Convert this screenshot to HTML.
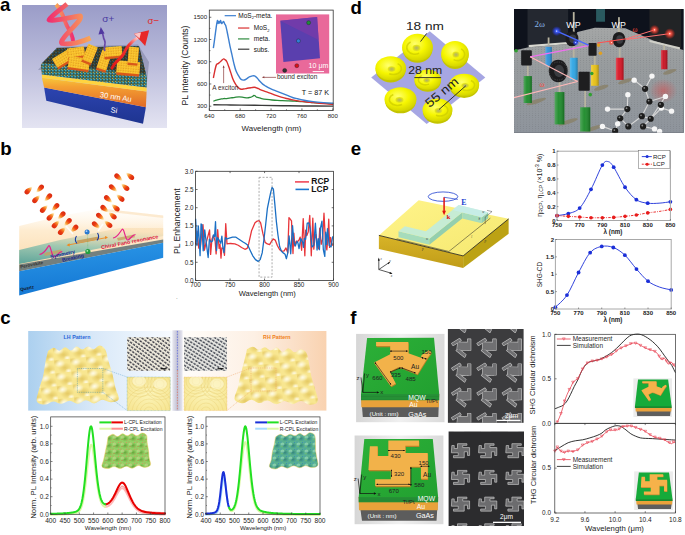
<!DOCTYPE html>
<html><head><meta charset="utf-8"><title>Figure</title>
<style>
html,body{margin:0;padding:0;background:#fff;width:685px;height:535px;overflow:hidden}
svg{display:block;font-family:"Liberation Sans",sans-serif}
</style></head><body>
<svg width="685" height="535" viewBox="0 0 685 535">
<rect width="685" height="535" fill="#fff"/>
<text x="0.1" y="10.7" font-size="18.6" font-weight="bold" fill="#000">a</text>
<text x="350.6" y="13.8" font-size="18.6" font-weight="bold" fill="#000">d</text>
<text x="0.2" y="154.7" font-size="18.6" font-weight="bold" fill="#000">b</text>
<text x="350.7" y="154.6" font-size="18.6" font-weight="bold" fill="#000">e</text>
<text x="0.2" y="324.2" font-size="18.6" font-weight="bold" fill="#000">c</text>
<text x="350.3" y="323.5" font-size="18.6" font-weight="bold" fill="#000">f</text>
<g id="img_a"><defs>
<linearGradient id="abg" x1="0" y1="0" x2="0" y2="1"><stop offset="0" stop-color="#9a9cc8"/><stop offset="0.55" stop-color="#c0c1de"/><stop offset="1" stop-color="#e4e4f2"/></linearGradient>
<linearGradient id="asi" x1="0" y1="0" x2="0" y2="1"><stop offset="0" stop-color="#2c44b0"/><stop offset="1" stop-color="#1e3490"/></linearGradient>
<linearGradient id="aau" x1="0" y1="0" x2="0" y2="1"><stop offset="0" stop-color="#f8c83a"/><stop offset="0.3" stop-color="#f4a032"/><stop offset="1" stop-color="#e06a28"/></linearGradient>
<pattern id="amol" width="3.2" height="3" patternUnits="userSpaceOnUse"><rect width="3.2" height="3" fill="#3a5a48"/><circle cx="1.6" cy="1.5" r="0.95" fill="#3aa8c8"/><circle cx="0.2" cy="0.2" r="0.7" fill="#e8b830"/></pattern>
<pattern id="ablk" width="2.5" height="2.5" patternUnits="userSpaceOnUse"><rect width="2.5" height="2.5" fill="#f8c02a"/><circle cx="1" cy="1" r="0.4" fill="#b5601a"/><circle cx="2" cy="2" r="0.35" fill="#ffe46a"/></pattern>
<linearGradient id="ahel" x1="0" y1="0" x2="1" y2="0"><stop offset="0" stop-color="#f03070"/><stop offset="1" stop-color="#f8a858"/></linearGradient>
<linearGradient id="ahel2" x1="0" y1="0" x2="1" y2="0"><stop offset="0" stop-color="#f8a858"/><stop offset="1" stop-color="#f03070"/></linearGradient>
<linearGradient id="ared" x1="0" y1="1" x2="1" y2="0"><stop offset="0" stop-color="#e01818"/><stop offset="0.7" stop-color="#f03030"/><stop offset="1" stop-color="#ffd0d0"/></linearGradient>
</defs>
<rect x="22" y="5" width="145" height="123" fill="url(#abg)"/>
<polygon points="38,70 57,47 138,44.5 149,62 147,82 40.8,70" fill="#7c80a0" opacity="0.55"/>
<polygon points="44.1,87.6 145.9,107.3 143,123.7 46.3,100.7" fill="url(#asi)"/>
<polygon points="41.9,77.7 146.6,91.5 145.9,107.3 44.1,87.6" fill="url(#aau)"/>
<polygon points="41.9,74.4 146.6,87.5 146.6,91.5 41.9,77.7" fill="#ffd440"/>
<polygon points="57,48 139,46 147,77.7 40.8,64.6" fill="url(#amol)"/>
<polygon points="57,48 139,46 146,74 42,63" fill="#2a1810" opacity="0.55"/>
<polygon points="40.8,64.6 147,77.7 146.6,87.5 41.9,74.4" fill="url(#amol)"/>
<g transform="rotate(-32 64 57.5)"><rect x="53.0" y="54.3" width="22" height="10.6" fill="#d8581a"/><rect x="53.0" y="52.5" width="22" height="10" fill="url(#ablk)"/></g>
<g transform="rotate(-8 76 52)"><rect x="67.5" y="49.3" width="17" height="9.6" fill="#d8581a"/><rect x="67.5" y="47.5" width="17" height="9" fill="url(#ablk)"/></g>
<g transform="rotate(8 79 63)"><rect x="68.5" y="59.3" width="21" height="11.6" fill="#d8581a"/><rect x="68.5" y="57.5" width="21" height="11" fill="url(#ablk)"/></g>
<g transform="rotate(22 90 53.5)"><rect x="85.0" y="46.8" width="10" height="17.6" fill="#d8581a"/><rect x="85.0" y="45.0" width="10" height="17" fill="url(#ablk)"/></g>
<g transform="rotate(18 104.3 60)"><rect x="99.3" y="52.3" width="10" height="19.6" fill="#d8581a"/><rect x="99.3" y="50.5" width="10" height="19" fill="url(#ablk)"/></g>
<g transform="rotate(-5 113 51.5)"><rect x="104.0" y="48.55" width="18" height="10.1" fill="#d8581a"/><rect x="104.0" y="46.75" width="18" height="9.5" fill="url(#ablk)"/></g>
<g transform="rotate(5 128.3 67.3)"><rect x="116.80000000000001" y="63.099999999999994" width="23" height="12.6" fill="#d8581a"/><rect x="116.80000000000001" y="61.3" width="23" height="12" fill="url(#ablk)"/></g>
<g transform="rotate(5 133.3 55)"><rect x="128.3" y="48.8" width="10" height="16.6" fill="#d8581a"/><rect x="128.3" y="47.0" width="10" height="16" fill="url(#ablk)"/></g>
<path d="M56,4.5 C62,10 64,20 67,26 C70,31 73,36 73,41" fill="none" stroke="url(#ahel2)" stroke-width="4"/>
<path d="M67,4 C60,10 52,15 49,20 C55,22 70,17 80.5,16 C82,20 72,28 66,35 C62,40 60.5,42 62,43.5 C70,45 82,42 90.5,38" fill="none" stroke="url(#ahel)" stroke-width="4.8" stroke-linejoin="round"/>
<path d="M105,51 C103,47 106.5,44 104.5,40 C102.5,37 104,35 102,33" fill="none" stroke="#6848a8" stroke-width="1.7"/>
<polygon points="98.5,34.5 100.8,26.9 104.6,33.5" fill="#5038a0"/>
<text x="102.3" y="21.8" font-size="9.6" fill="#4a3aa0" textLength="12" lengthAdjust="spacingAndGlyphs">σ+</text>
<path d="M112,68 C115,61 121,59 123.5,54 C126,48 129,43 138,37.5" fill="none" stroke="url(#ared)" stroke-width="3" stroke-linecap="round"/>
<polygon points="134,33.8 149.1,30.2 145.2,46" fill="#e82828"/>
<polygon points="134,33.8 141,32.4 139.5,38.5" fill="#ffe0e0" opacity="0.85"/>
<text x="147.6" y="23.5" font-size="9.6" fill="#e02828" textLength="11.6" lengthAdjust="spacingAndGlyphs">σ−</text>
<text x="99.5" y="97" font-size="7.6" fill="#fff" transform="rotate(9 99.5 97)">30 nm Au</text>
<text x="110.3" y="112.3" font-size="7.6" fill="#fff" transform="rotate(9 110.3 112.3)">Si</text></g>
<g id="img_d_rings"><defs>
<radialGradient id="ringg" cx="0.42" cy="0.38" r="0.62"><stop offset="0" stop-color="#ffff70"/><stop offset="0.55" stop-color="#f6f600"/><stop offset="1" stop-color="#d4d400"/></radialGradient>
<radialGradient id="holeg" cx="0.5" cy="0.5" r="0.5"><stop offset="0" stop-color="#b0b070"/><stop offset="0.6" stop-color="#d0d030"/><stop offset="1" stop-color="#eeee10"/></radialGradient>
</defs>
<polygon points="371.2,77.6 429.8,31.3 485.3,77.6 426.7,123.9" fill="#9c9ce0" opacity="0.9"/>
<ellipse cx="417.5" cy="49.0" rx="14.938" ry="13.8" fill="#c4c400"/>
<ellipse cx="417.5" cy="47.2" rx="15.4" ry="13.5" fill="url(#ringg)"/>
<path d="M410.57,41.95 A7.70,6.30 0 1,0 419.04,53.20" fill="none" stroke="#d0d000" stroke-width="1.6" opacity="0.8"/>
<ellipse cx="416.5" cy="48.0" rx="4.0040000000000004" ry="3.3" fill="url(#holeg)"/>
<ellipse cx="455" cy="55.699999999999996" rx="13.483" ry="13.248000000000001" fill="#c4c400"/>
<ellipse cx="455" cy="53.9" rx="13.9" ry="12.96" fill="url(#ringg)"/>
<path d="M461.25,48.86 A6.95,6.05 0 1,1 453.61,59.66" fill="none" stroke="#d0d000" stroke-width="1.6" opacity="0.8"/>
<ellipse cx="456.0" cy="54.699999999999996" rx="3.6140000000000003" ry="3.168" fill="url(#holeg)"/>
<ellipse cx="390.7" cy="70.1" rx="14.938" ry="12.328000000000001" fill="#c4c400"/>
<ellipse cx="390.7" cy="68.3" rx="15.4" ry="12.06" fill="url(#ringg)"/>
<path d="M397.63,63.61 A7.70,5.63 0 1,1 389.16,73.66" fill="none" stroke="#d0d000" stroke-width="1.6" opacity="0.8"/>
<ellipse cx="391.7" cy="69.1" rx="4.0040000000000004" ry="2.948" fill="url(#holeg)"/>
<ellipse cx="427.7" cy="81.39999999999999" rx="12.998" ry="10.396" fill="#c4c400"/>
<ellipse cx="427.7" cy="79.6" rx="13.4" ry="10.170000000000002" fill="url(#ringg)"/>
<path d="M421.67,75.64 A6.70,4.75 0 1,0 429.04,84.12" fill="none" stroke="#d0d000" stroke-width="1.6" opacity="0.8"/>
<ellipse cx="426.7" cy="80.39999999999999" rx="3.4840000000000004" ry="2.486" fill="url(#holeg)"/>
<ellipse cx="464.2" cy="86.6" rx="14.549999999999999" ry="11.316" fill="#c4c400"/>
<ellipse cx="464.2" cy="84.8" rx="15" ry="11.07" fill="url(#ringg)"/>
<path d="M470.95,80.50 A7.50,5.17 0 1,1 462.70,89.72" fill="none" stroke="#d0d000" stroke-width="1.6" opacity="0.8"/>
<ellipse cx="465.2" cy="85.6" rx="3.9000000000000004" ry="2.706" fill="url(#holeg)"/>
<ellipse cx="400.5" cy="101.0" rx="15.52" ry="12.328000000000001" fill="#c4c400"/>
<ellipse cx="400.5" cy="99.2" rx="16" ry="12.06" fill="url(#ringg)"/>
<path d="M393.30,94.51 A8.00,5.63 0 1,0 402.10,104.56" fill="none" stroke="#d0d000" stroke-width="1.6" opacity="0.8"/>
<ellipse cx="399.5" cy="100.0" rx="4.16" ry="2.948" fill="url(#holeg)"/>
<ellipse cx="437.5" cy="111.8" rx="14.549999999999999" ry="11.868" fill="#c4c400"/>
<ellipse cx="437.5" cy="110" rx="15" ry="11.610000000000001" fill="url(#ringg)"/>
<path d="M444.25,105.48 A7.50,5.42 0 1,1 436.00,115.16" fill="none" stroke="#d0d000" stroke-width="1.6" opacity="0.8"/>
<ellipse cx="438.5" cy="110.8" rx="3.9000000000000004" ry="2.838" fill="url(#holeg)"/>
<line x1="426.7" y1="33.4" x2="420.5" y2="41.6" stroke="#222" stroke-width="0.9"/>
<text x="406" y="29.5" font-size="11.6" fill="#222" textLength="38" lengthAdjust="spacingAndGlyphs">18 nm</text>
<text x="408.2" y="73.8" font-size="11.6" fill="#222" textLength="34" lengthAdjust="spacingAndGlyphs">28 nm</text>
<line x1="414.4" y1="77.6" x2="441.1" y2="77.6" stroke="#222" stroke-width="0.9"/>
<line x1="439" y1="109.5" x2="465.8" y2="85.8" stroke="#222" stroke-width="0.9"/>
<text x="0" y="0" font-size="12.4" fill="#222" textLength="39" lengthAdjust="spacingAndGlyphs" transform="translate(429.5 108) rotate(-40)">55 nm</text></g>
<g id="img_d_photo"><defs>
<linearGradient id="tbl" x1="0" y1="0" x2="0" y2="1"><stop offset="0" stop-color="#a4a6a6"/><stop offset="0.35" stop-color="#989c9e"/><stop offset="1" stop-color="#8e949c"/></linearGradient>
<radialGradient id="rglow" cx="0.5" cy="0.5" r="0.5"><stop offset="0" stop-color="#fff"/><stop offset="0.2" stop-color="#ff6050"/><stop offset="1" stop-color="#ff2010" stop-opacity="0"/></radialGradient>
<radialGradient id="bglow" cx="0.5" cy="0.5" r="0.5"><stop offset="0" stop-color="#fff"/><stop offset="0.2" stop-color="#4060ff"/><stop offset="1" stop-color="#2030ff" stop-opacity="0"/></radialGradient>
<radialGradient id="redhaze" cx="0.5" cy="0.5" r="0.5"><stop offset="0" stop-color="#e04040" stop-opacity="0.5"/><stop offset="1" stop-color="#e04040" stop-opacity="0"/></radialGradient>
<pattern id="holes" width="3.0" height="2.2" patternUnits="userSpaceOnUse"><circle cx="1.5" cy="1.1" r="0.38" fill="#6a6e72"/></pattern>
<linearGradient id="postg" x1="0" y1="0" x2="1" y2="0"><stop offset="0" stop-color="#fff" stop-opacity="0.25"/><stop offset="0.4" stop-color="#fff" stop-opacity="0.05"/><stop offset="1" stop-color="#000" stop-opacity="0.25"/></linearGradient>
</defs>
<clipPath id="dclip"><rect x="514" y="9" width="169.7" height="123.8"/></clipPath><g clip-path="url(#dclip)">
<rect x="514" y="9" width="170" height="124" fill="#0e121c"/>
<polygon points="527.51,9.03 568.15,9.03 568.15,45.10 527.51,47.64" fill="#242830"/>
<polygon points="649.43,9.03 681.18,9.03 681.18,48.91 649.43,41.29" fill="#222426"/>
<rect x="596.09" y="9.03" width="8.89" height="12.70" fill="#2a5a60"/>
<polygon points="513.54,50.69 528.78,47.13 568.15,44.08 577.55,31.89 594.82,27.83 625.30,28.34 653.24,40.53 683.97,50.18 683.97,132.98 513.54,132.98" fill="url(#tbl)"/>
<polygon points="513.54,50.69 528.78,47.13 568.15,44.08 577.55,31.89 594.82,27.83 625.30,28.34 653.24,40.53 683.97,50.18 683.97,132.98 513.54,132.98" fill="url(#holes)" opacity="0.55"/>
<polygon points="528.78,45.10 568.15,42.05 568.15,44.08 528.78,47.13" fill="#d8d8d0"/>
<polygon points="649.43,40.02 679.91,47.13 679.91,49.42 649.43,42.05" fill="#d0d0c8"/>
<ellipse cx="663.40" cy="90.82" rx="14" ry="12" fill="url(#redhaze)"/>
<ellipse cx="536.40" cy="101.49" rx="10.16" ry="2" fill="#8a8470" opacity="0.95" transform="rotate(-18 536.40 101.49)"/>
<ellipse cx="568.15" cy="121.81" rx="10.16" ry="2" fill="#8a8470" opacity="0.95" transform="rotate(-18 568.15 121.81)"/>
<ellipse cx="593.55" cy="128.41" rx="8.89" ry="2" fill="#8a8470" opacity="0.95" transform="rotate(-18 593.55 128.41)"/>
<ellipse cx="625.30" cy="81.17" rx="7.62" ry="2" fill="#8a8470" opacity="0.95" transform="rotate(-18 625.30 81.17)"/>
<ellipse cx="669.75" cy="71.77" rx="6.99" ry="2" fill="#8a8470" opacity="0.95" transform="rotate(-18 669.75 71.77)"/>
<ellipse cx="601.17" cy="87.77" rx="7.62" ry="2" fill="#8a8470" opacity="0.95" transform="rotate(-18 601.17 87.77)"/>
<rect x="547.70" y="37.48" width="1.78" height="7.62" fill="#b8b4a0"/>
<rect x="572.85" y="45.10" width="1.78" height="13.97" fill="#b8b4a0"/>
<rect x="593.93" y="53.99" width="1.78" height="11.43" fill="#b8b4a0"/>
<rect x="618.82" y="47.64" width="1.78" height="11.43" fill="#b8b4a0"/>
<rect x="663.27" y="45.10" width="1.78" height="5.59" fill="#b8b4a0"/>
<rect x="526.88" y="65.42" width="1.78" height="11.43" fill="#b8b4a0"/>
<rect x="558.63" y="79.39" width="1.78" height="13.97" fill="#b8b4a0"/>
<rect x="584.28" y="90.82" width="1.78" height="19.05" fill="#b8b4a0"/>
<rect x="572.85" y="12.08" width="1.78" height="20.32" fill="#b8b4a0"/>
<rect x="618.06" y="17.16" width="1.78" height="15.24" fill="#b8b4a0"/>
<rect x="545.42" y="46.88" width="6.35" height="19.05" fill="#2a8ed8"/>
<rect x="545.42" y="46.88" width="6.35" height="19.05" fill="url(#postg)"/>
<rect x="569.93" y="57.80" width="7.62" height="22.10" fill="#2aa4e4"/>
<rect x="569.93" y="57.80" width="7.62" height="22.10" fill="url(#postg)"/>
<rect x="591.01" y="64.91" width="7.62" height="20.83" fill="#e8c010"/>
<rect x="591.01" y="64.91" width="7.62" height="20.83" fill="url(#postg)"/>
<rect x="615.90" y="57.80" width="7.62" height="22.10" fill="#d81020"/>
<rect x="615.90" y="57.80" width="7.62" height="22.10" fill="url(#postg)"/>
<rect x="660.99" y="50.18" width="6.35" height="19.05" fill="#c81020"/>
<rect x="660.99" y="50.18" width="6.35" height="19.05" fill="url(#postg)"/>
<rect x="523.70" y="76.09" width="8.13" height="26.92" fill="#1a8a28"/>
<rect x="523.70" y="76.09" width="8.13" height="26.92" fill="url(#postg)"/>
<rect x="554.69" y="92.09" width="9.65" height="32.26" fill="#1a8a28"/>
<rect x="554.69" y="92.09" width="9.65" height="32.26" fill="url(#postg)"/>
<rect x="580.09" y="107.33" width="10.16" height="24.13" fill="#1a8a28"/>
<rect x="580.09" y="107.33" width="10.16" height="24.13" fill="url(#postg)"/>
<ellipse cx="571.96" cy="38.75" rx="6.48" ry="7.62" fill="#1c1c1e"/>
<ellipse cx="572.76" cy="38.75" rx="3.43" ry="4.19" fill="#3a3c40"/>
<ellipse cx="618.95" cy="39.51" rx="6.48" ry="7.62" fill="#1c1c1e"/>
<ellipse cx="619.75" cy="39.51" rx="3.43" ry="4.19" fill="#3a3c40"/>
<ellipse cx="558.24" cy="71.01" rx="9.50" ry="11.18" fill="#1c1c1e"/>
<ellipse cx="559.04" cy="71.01" rx="5.03" ry="6.15" fill="#3a3c40"/>
<circle cx="558.24" cy="71.01" r="9" fill="none" stroke="#666" stroke-width="0.8" stroke-dasharray="0.6,1.2"/>
<rect x="521.16" y="50.18" width="10.67" height="15.24" fill="#1e1e20" rx="0.8"/>
<rect x="588.47" y="43.07" width="8.13" height="12.70" fill="#1e1e20" rx="0.8"/>
<rect x="578.56" y="71.77" width="11.18" height="19.05" fill="#1e1e20" rx="0.8"/>
<circle cx="598.63" cy="45.10" r="1.8" fill="#e0a020"/>
<circle cx="600.41" cy="53.23" r="1.8" fill="#e0a020"/>
<circle cx="516.08" cy="50.69" r="1.8" fill="#30a030"/>
<circle cx="591.77" cy="73.55" r="1.8" fill="#30a030"/>
<circle cx="590.25" cy="94.63" r="1.8" fill="#30a030"/>
<line x1="530.05" y1="56.78" x2="588.47" y2="45.61" stroke="#f070f0" stroke-width="1.3" opacity="1"/>
<line x1="530.05" y1="56.78" x2="577.55" y2="81.42" stroke="#ffb8b8" stroke-width="1.1" opacity="1"/>
<line x1="513.54" y1="97.68" x2="577.55" y2="81.42" stroke="#ffb8b8" stroke-width="1.1" opacity="1"/>
<line x1="556.72" y1="31.13" x2="588.47" y2="45.10" stroke="#4a6aff" stroke-width="1.5" opacity="1"/>
<line x1="597.36" y1="43.07" x2="626.57" y2="38.75" stroke="#ff5050" stroke-width="1.1" opacity="1"/>
<line x1="626.57" y1="38.75" x2="654.51" y2="29.86" stroke="#ff7070" stroke-width="1.0" opacity="1"/>
<line x1="626.57" y1="39.51" x2="669.75" y2="33.67" stroke="#ff7070" stroke-width="1.0" opacity="1"/>
<circle cx="556.72" cy="31.13" r="5" fill="url(#bglow)"/>
<circle cx="654.51" cy="29.86" r="5" fill="url(#rglow)"/>
<circle cx="669.75" cy="33.67" r="5.5" fill="url(#rglow)"/>
<circle cx="575.77" cy="42.56" r="3.5" fill="url(#bglow)"/>
<circle cx="611.33" cy="42.56" r="3" fill="url(#rglow)"/>
<line x1="634.19" y1="80.15" x2="645.11" y2="88.79" stroke="#d8d8d8" stroke-width="1.1"/>
<line x1="651.97" y1="76.09" x2="645.11" y2="88.79" stroke="#d8d8d8" stroke-width="1.1"/>
<line x1="645.11" y1="88.79" x2="649.43" y2="101.49" stroke="#d8d8d8" stroke-width="1.1"/>
<line x1="649.43" y1="101.49" x2="641.81" y2="116.22" stroke="#d8d8d8" stroke-width="1.1"/>
<line x1="649.43" y1="101.49" x2="665.43" y2="96.41" stroke="#d8d8d8" stroke-width="1.1"/>
<line x1="627.84" y1="94.63" x2="627.33" y2="109.11" stroke="#d8d8d8" stroke-width="1.1"/>
<line x1="627.33" y1="109.11" x2="607.52" y2="109.11" stroke="#d8d8d8" stroke-width="1.1"/>
<line x1="627.33" y1="109.11" x2="620.22" y2="118.25" stroke="#d8d8d8" stroke-width="1.1"/>
<line x1="620.22" y1="118.25" x2="617.68" y2="123.84" stroke="#d8d8d8" stroke-width="1.1"/>
<line x1="620.22" y1="118.25" x2="628.35" y2="126.38" stroke="#d8d8d8" stroke-width="1.1"/>
<line x1="628.35" y1="126.38" x2="641.81" y2="116.22" stroke="#d8d8d8" stroke-width="1.1"/>
<line x1="641.81" y1="116.22" x2="650.70" y2="118.76" stroke="#d8d8d8" stroke-width="1.1"/>
<line x1="650.70" y1="118.76" x2="661.37" y2="108.09" stroke="#d8d8d8" stroke-width="1.1"/>
<line x1="650.70" y1="118.76" x2="665.43" y2="96.41" stroke="#d8d8d8" stroke-width="1.1"/>
<line x1="661.37" y1="108.09" x2="671.53" y2="111.14" stroke="#d8d8d8" stroke-width="1.1"/>
<line x1="650.70" y1="118.76" x2="643.08" y2="126.38" stroke="#d8d8d8" stroke-width="1.1"/>
<line x1="643.08" y1="126.38" x2="654.51" y2="128.92" stroke="#d8d8d8" stroke-width="1.1"/>
<line x1="617.68" y1="123.84" x2="615.14" y2="130.95" stroke="#d8d8d8" stroke-width="1.1"/>
<line x1="615.14" y1="130.95" x2="602.44" y2="126.38" stroke="#d8d8d8" stroke-width="1.1"/>
<circle cx="634.19" cy="80.15" r="2.7" fill="#f6f6f6"/>
<circle cx="651.97" cy="76.09" r="2.7" fill="#f6f6f6"/>
<circle cx="645.11" cy="88.79" r="3.1" fill="#1c1c1c"/><circle cx="644.31" cy="87.89" r="0.9" fill="#888"/>
<circle cx="649.43" cy="101.49" r="3.1" fill="#1c1c1c"/><circle cx="648.63" cy="100.59" r="0.9" fill="#888"/>
<circle cx="627.84" cy="94.63" r="2.7" fill="#f6f6f6"/>
<circle cx="627.33" cy="109.11" r="3.1" fill="#1c1c1c"/><circle cx="626.53" cy="108.21" r="0.9" fill="#888"/>
<circle cx="607.52" cy="109.11" r="2.7" fill="#f6f6f6"/>
<circle cx="620.22" cy="118.25" r="3.1" fill="#1c1c1c"/><circle cx="619.42" cy="117.35" r="0.9" fill="#888"/>
<circle cx="617.68" cy="123.84" r="2.7" fill="#f6f6f6"/>
<circle cx="628.35" cy="126.38" r="3.1" fill="#1c1c1c"/><circle cx="627.55" cy="125.48" r="0.9" fill="#888"/>
<circle cx="641.81" cy="116.22" r="3.1" fill="#1c1c1c"/><circle cx="641.01" cy="115.32" r="0.9" fill="#888"/>
<circle cx="650.70" cy="118.76" r="3.1" fill="#1c1c1c"/><circle cx="649.90" cy="117.86" r="0.9" fill="#888"/>
<circle cx="661.37" cy="108.09" r="2.7" fill="#f6f6f6"/>
<circle cx="665.43" cy="96.41" r="2.7" fill="#f6f6f6"/>
<circle cx="671.53" cy="111.14" r="2.7" fill="#f6f6f6"/>
<circle cx="660.86" cy="104.79" r="3.1" fill="#1c1c1c"/><circle cx="660.06" cy="103.89" r="0.9" fill="#888"/>
<circle cx="643.08" cy="126.38" r="3.1" fill="#1c1c1c"/><circle cx="642.28" cy="125.48" r="0.9" fill="#888"/>
<circle cx="654.51" cy="128.92" r="2.7" fill="#f6f6f6"/>
<circle cx="602.44" cy="126.38" r="2.7" fill="#f6f6f6"/>
<circle cx="615.14" cy="130.95" r="3.1" fill="#1c1c1c"/><circle cx="614.34" cy="130.05" r="0.9" fill="#888"/>
<circle cx="659.59" cy="131.46" r="2.7" fill="#f6f6f6"/>
<text x="534.62" y="27.32" font-size="9" text-anchor="start" fill="#8ab8e8" font-weight="normal" font-family="Liberation Serif">2ω</text>
<text x="566.37" y="27.83" font-size="8.8" text-anchor="start" fill="#fff" font-weight="normal" >WP</text>
<text x="611.58" y="28.08" font-size="8.8" text-anchor="start" fill="#fff" font-weight="normal" >WP</text>
<text x="632.41" y="31.89" font-size="7.5" text-anchor="start" fill="#ff4838" font-weight="normal" font-family="Liberation Serif">ω</text>
<text x="539.45" y="87.01" font-size="7.5" text-anchor="start" fill="#ff4838" font-weight="normal" font-family="Liberation Serif">ω</text>
</g></g>
<g id="img_b"><defs>
<linearGradient id="bdrop" x1="0" y1="0" x2="1" y2="0"><stop offset="0" stop-color="#d82810"/><stop offset="0.35" stop-color="#ea3c12"/><stop offset="0.62" stop-color="#f7922e"/><stop offset="0.85" stop-color="#fde8b0"/><stop offset="1" stop-color="#fffaf0" stop-opacity="0.5"/></linearGradient>
<linearGradient id="bpeach" x1="0" y1="0" x2="0" y2="1"><stop offset="0" stop-color="#fffaf2" stop-opacity="0.3"/><stop offset="0.35" stop-color="#feecd0"/><stop offset="1" stop-color="#fad8a8"/></linearGradient>
<linearGradient id="btop" x1="0.2" y1="1" x2="0.4" y2="0"><stop offset="0" stop-color="#5aa49a"/><stop offset="0.5" stop-color="#9cc6b0"/><stop offset="1" stop-color="#f8dcb0" stop-opacity="0.6"/></linearGradient>
<linearGradient id="bq" x1="0" y1="0" x2="0.2" y2="1"><stop offset="0" stop-color="#2c98e8"/><stop offset="1" stop-color="#1478d4"/></linearGradient>
</defs>
<polygon points="19.2,226 60,216 101,208.5 163.2,215.5 163.2,243 19.2,271.3" fill="url(#bpeach)"/>
<polygon points="101,208.5 163.2,215.5 163.2,218 101,211" fill="#fbe2c0" opacity="0.7"/>
<polygon points="19.2,264 163.2,236 163.2,228 120,228 60,240 19.2,250" fill="url(#btop)" opacity="0.95"/>
<polygon points="19.2,264.5 163.2,239.5 163.2,242.7 19.2,271.3" fill="#5a6e74" opacity="0.85"/>
<polygon points="19.2,271.3 163.2,242.7 163.2,257.8 19.2,295.5" fill="url(#bq)"/>
<g transform="translate(28.60 190.30) rotate(-45) scale(1.15)"><path d="M-4.2,0 C-4.2,-2.4 -1.5,-2.5 0.8,-1.7 C2.6,-1.1 4,-0.4 4.8,0 C4,0.4 2.6,1.1 0.8,1.7 C-1.5,2.5 -4.2,2.4 -4.2,0 Z" fill="url(#bdrop)"/></g>
<g transform="translate(36.30 199.00) rotate(-45) scale(1.15)"><path d="M-4.2,0 C-4.2,-2.4 -1.5,-2.5 0.8,-1.7 C2.6,-1.1 4,-0.4 4.8,0 C4,0.4 2.6,1.1 0.8,1.7 C-1.5,2.5 -4.2,2.4 -4.2,0 Z" fill="url(#bdrop)"/></g>
<g transform="translate(44.00 208.80) rotate(-45) scale(1.15)"><path d="M-4.2,0 C-4.2,-2.4 -1.5,-2.5 0.8,-1.7 C2.6,-1.1 4,-0.4 4.8,0 C4,0.4 2.6,1.1 0.8,1.7 C-1.5,2.5 -4.2,2.4 -4.2,0 Z" fill="url(#bdrop)"/></g>
<g transform="translate(50.70 216.50) rotate(-45) scale(1.15)"><path d="M-4.2,0 C-4.2,-2.4 -1.5,-2.5 0.8,-1.7 C2.6,-1.1 4,-0.4 4.8,0 C4,0.4 2.6,1.1 0.8,1.7 C-1.5,2.5 -4.2,2.4 -4.2,0 Z" fill="url(#bdrop)"/></g>
<g transform="translate(55.80 224.20) rotate(-45) scale(1.15)"><path d="M-4.2,0 C-4.2,-2.4 -1.5,-2.5 0.8,-1.7 C2.6,-1.1 4,-0.4 4.8,0 C4,0.4 2.6,1.1 0.8,1.7 C-1.5,2.5 -4.2,2.4 -4.2,0 Z" fill="url(#bdrop)"/></g>
<g transform="translate(62.00 230.90) rotate(-45) scale(1.15)"><path d="M-4.2,0 C-4.2,-2.4 -1.5,-2.5 0.8,-1.7 C2.6,-1.1 4,-0.4 4.8,0 C4,0.4 2.6,1.1 0.8,1.7 C-1.5,2.5 -4.2,2.4 -4.2,0 Z" fill="url(#bdrop)"/></g>
<g transform="translate(39.90 188.70) rotate(135) scale(1.15)"><path d="M-4.2,0 C-4.2,-2.4 -1.5,-2.5 0.8,-1.7 C2.6,-1.1 4,-0.4 4.8,0 C4,0.4 2.6,1.1 0.8,1.7 C-1.5,2.5 -4.2,2.4 -4.2,0 Z" fill="url(#bdrop)"/></g>
<g transform="translate(48.10 197.50) rotate(135) scale(1.15)"><path d="M-4.2,0 C-4.2,-2.4 -1.5,-2.5 0.8,-1.7 C2.6,-1.1 4,-0.4 4.8,0 C4,0.4 2.6,1.1 0.8,1.7 C-1.5,2.5 -4.2,2.4 -4.2,0 Z" fill="url(#bdrop)"/></g>
<g transform="translate(55.30 207.20) rotate(135) scale(1.15)"><path d="M-4.2,0 C-4.2,-2.4 -1.5,-2.5 0.8,-1.7 C2.6,-1.1 4,-0.4 4.8,0 C4,0.4 2.6,1.1 0.8,1.7 C-1.5,2.5 -4.2,2.4 -4.2,0 Z" fill="url(#bdrop)"/></g>
<g transform="translate(61.50 215.50) rotate(135) scale(1.15)"><path d="M-4.2,0 C-4.2,-2.4 -1.5,-2.5 0.8,-1.7 C2.6,-1.1 4,-0.4 4.8,0 C4,0.4 2.6,1.1 0.8,1.7 C-1.5,2.5 -4.2,2.4 -4.2,0 Z" fill="url(#bdrop)"/></g>
<g transform="translate(67.70 222.20) rotate(135) scale(1.15)"><path d="M-4.2,0 C-4.2,-2.4 -1.5,-2.5 0.8,-1.7 C2.6,-1.1 4,-0.4 4.8,0 C4,0.4 2.6,1.1 0.8,1.7 C-1.5,2.5 -4.2,2.4 -4.2,0 Z" fill="url(#bdrop)"/></g>
<g transform="translate(74.30 228.80) rotate(135) scale(1.15)"><path d="M-4.2,0 C-4.2,-2.4 -1.5,-2.5 0.8,-1.7 C2.6,-1.1 4,-0.4 4.8,0 C4,0.4 2.6,1.1 0.8,1.7 C-1.5,2.5 -4.2,2.4 -4.2,0 Z" fill="url(#bdrop)"/></g>
<g transform="translate(118.50 177.30) rotate(40) scale(1.15)"><path d="M-4.2,0 C-4.2,-2.4 -1.5,-2.5 0.8,-1.7 C2.6,-1.1 4,-0.4 4.8,0 C4,0.4 2.6,1.1 0.8,1.7 C-1.5,2.5 -4.2,2.4 -4.2,0 Z" fill="url(#bdrop)"/></g>
<g transform="translate(113.10 188.20) rotate(40) scale(1.15)"><path d="M-4.2,0 C-4.2,-2.4 -1.5,-2.5 0.8,-1.7 C2.6,-1.1 4,-0.4 4.8,0 C4,0.4 2.6,1.1 0.8,1.7 C-1.5,2.5 -4.2,2.4 -4.2,0 Z" fill="url(#bdrop)"/></g>
<g transform="translate(108.20 199.10) rotate(40) scale(1.15)"><path d="M-4.2,0 C-4.2,-2.4 -1.5,-2.5 0.8,-1.7 C2.6,-1.1 4,-0.4 4.8,0 C4,0.4 2.6,1.1 0.8,1.7 C-1.5,2.5 -4.2,2.4 -4.2,0 Z" fill="url(#bdrop)"/></g>
<g transform="translate(104.60 208.80) rotate(40) scale(1.15)"><path d="M-4.2,0 C-4.2,-2.4 -1.5,-2.5 0.8,-1.7 C2.6,-1.1 4,-0.4 4.8,0 C4,0.4 2.6,1.1 0.8,1.7 C-1.5,2.5 -4.2,2.4 -4.2,0 Z" fill="url(#bdrop)"/></g>
<g transform="translate(100.30 216.70) rotate(40) scale(1.15)"><path d="M-4.2,0 C-4.2,-2.4 -1.5,-2.5 0.8,-1.7 C2.6,-1.1 4,-0.4 4.8,0 C4,0.4 2.6,1.1 0.8,1.7 C-1.5,2.5 -4.2,2.4 -4.2,0 Z" fill="url(#bdrop)"/></g>
<g transform="translate(96.10 225.20) rotate(40) scale(1.15)"><path d="M-4.2,0 C-4.2,-2.4 -1.5,-2.5 0.8,-1.7 C2.6,-1.1 4,-0.4 4.8,0 C4,0.4 2.6,1.1 0.8,1.7 C-1.5,2.5 -4.2,2.4 -4.2,0 Z" fill="url(#bdrop)"/></g>
<g transform="translate(130.00 176.10) rotate(220) scale(1.15)"><path d="M-4.2,0 C-4.2,-2.4 -1.5,-2.5 0.8,-1.7 C2.6,-1.1 4,-0.4 4.8,0 C4,0.4 2.6,1.1 0.8,1.7 C-1.5,2.5 -4.2,2.4 -4.2,0 Z" fill="url(#bdrop)"/></g>
<g transform="translate(125.20 187.00) rotate(220) scale(1.15)"><path d="M-4.2,0 C-4.2,-2.4 -1.5,-2.5 0.8,-1.7 C2.6,-1.1 4,-0.4 4.8,0 C4,0.4 2.6,1.1 0.8,1.7 C-1.5,2.5 -4.2,2.4 -4.2,0 Z" fill="url(#bdrop)"/></g>
<g transform="translate(120.30 197.90) rotate(220) scale(1.15)"><path d="M-4.2,0 C-4.2,-2.4 -1.5,-2.5 0.8,-1.7 C2.6,-1.1 4,-0.4 4.8,0 C4,0.4 2.6,1.1 0.8,1.7 C-1.5,2.5 -4.2,2.4 -4.2,0 Z" fill="url(#bdrop)"/></g>
<g transform="translate(115.50 207.60) rotate(220) scale(1.15)"><path d="M-4.2,0 C-4.2,-2.4 -1.5,-2.5 0.8,-1.7 C2.6,-1.1 4,-0.4 4.8,0 C4,0.4 2.6,1.1 0.8,1.7 C-1.5,2.5 -4.2,2.4 -4.2,0 Z" fill="url(#bdrop)"/></g>
<g transform="translate(112.50 215.50) rotate(220) scale(1.15)"><path d="M-4.2,0 C-4.2,-2.4 -1.5,-2.5 0.8,-1.7 C2.6,-1.1 4,-0.4 4.8,0 C4,0.4 2.6,1.1 0.8,1.7 C-1.5,2.5 -4.2,2.4 -4.2,0 Z" fill="url(#bdrop)"/></g>
<g transform="translate(108.20 224.00) rotate(220) scale(1.15)"><path d="M-4.2,0 C-4.2,-2.4 -1.5,-2.5 0.8,-1.7 C2.6,-1.1 4,-0.4 4.8,0 C4,0.4 2.6,1.1 0.8,1.7 C-1.5,2.5 -4.2,2.4 -4.2,0 Z" fill="url(#bdrop)"/></g>
<line x1="66" y1="226" x2="73" y2="234" stroke="#fff" stroke-width="1.6" opacity="0.85"/>
<line x1="103" y1="224" x2="98" y2="231" stroke="#fff" stroke-width="1.6" opacity="0.85"/>
<line x1="68" y1="245" x2="107" y2="237.5" stroke="#f08a20" stroke-width="0.9"/>
<polygon points="66.5,245.3 69.5,243.3 69.8,246.5" fill="#f08a20"/>
<polygon points="108,237.3 105,236 105.2,239.2" fill="#f08a20"/>
<polygon points="77,240.5 98.5,236.5 99,239.3 77.5,243.5" fill="#c8a060"/>
<circle cx="87.1" cy="231.9" r="2.5" fill="#2a7ad0"/>
<circle cx="86.5" cy="231.2" r="0.9" fill="#aad0ff"/>
<line x1="87.5" y1="234" x2="87.8" y2="249" stroke="#60b060" stroke-width="0.4" stroke-dasharray="0.8,0.6"/>
<circle cx="87.9" cy="251.5" r="2.6" fill="#20a040"/>
<circle cx="87.3" cy="250.8" r="0.9" fill="#b0f0b0"/>
<path d="M76.5,236 q-2.5,4 0.5,7.5" fill="none" stroke="#1a3aa0" stroke-width="1.1"/>
<path d="M97.5,233 q2.5,4 -0.5,7.5" fill="none" stroke="#1a3aa0" stroke-width="1.1"/>
<polygon points="44,253 61,249.5 62,252.5 45,256" fill="#c8a060" opacity="0.8"/>
<path d="M39.5,254.5 C44,254 46.5,249 48.5,246 C50.5,243.5 51.5,256 54,257 C56,257.5 58,252 62.3,251.5" fill="none" stroke="#e8208a" stroke-width="1.2"/>
<polygon points="117,238 134,234.5 135,237.3 118,240.8" fill="#c8a060" opacity="0.8"/>
<path d="M113,238 C117.5,237.5 120,232 122,229.5 C124,227 125,239 127.5,240 C129.5,240.5 131.5,235 135.5,234.5" fill="none" stroke="#e8208a" stroke-width="1.2"/>
<text font-size="5.2" font-weight="bold" fill="#1a2a90" transform="translate(50.8 258.8) rotate(-13)">Symmetry</text>
<text font-size="5.2" font-weight="bold" fill="#1a2a90" transform="translate(62.5 262) rotate(-13)">Breaking</text>
<text font-size="5.2" font-weight="bold" fill="#e02040" textLength="58" lengthAdjust="spacingAndGlyphs" transform="translate(101.5 249.2) rotate(-11)">Chiral Fano resonance</text>
<text font-size="4.6" font-weight="bold" fill="#333" transform="translate(20.5 268.5) rotate(-11)">Perovskite</text>
<text font-size="4.4" font-weight="bold" fill="#112" transform="translate(20.5 291) rotate(-11)">Quartz</text></g>
<g id="img_e"><defs>
<linearGradient id="etop" x1="0" y1="0" x2="1" y2="1"><stop offset="0" stop-color="#fff48a"/><stop offset="1" stop-color="#f5e870"/></linearGradient>
<linearGradient id="efr" x1="0" y1="0" x2="0" y2="1"><stop offset="0" stop-color="#d8b428"/><stop offset="1" stop-color="#c09c18"/></linearGradient>
</defs>
<polygon points="378.89,235.38 418.69,200.24 508.65,218.87 463.14,255.91" fill="url(#etop)"/>
<polygon points="378.89,235.38 463.14,255.91 463.14,267.98 378.89,248.93" fill="url(#efr)"/>
<polygon points="463.14,255.91 508.65,218.87 508.65,233.69 463.14,267.98" fill="#bca214"/>
<polyline points="378.89,235.38 463.14,255.91 508.65,218.87" fill="none" stroke="#111" stroke-width="0.75"/>
<polygon points="398.48,237.30 429.38,244.83 429.38,238.83 398.48,231.30" fill="#a6dcbc"/>
<polygon points="429.38,244.83 462.21,218.48 462.21,212.48 429.38,238.83" fill="#94cfae"/>
<polygon points="462.21,218.48 481.83,223.25 481.83,217.25 462.21,212.48" fill="#a6dcbc"/>
<polygon points="481.83,223.25 488.21,218.13 488.21,212.13 481.83,217.25" fill="#94cfae"/>
<polygon points="398.48,231.30 429.38,238.83 462.21,212.48 481.83,217.25 488.21,212.13 458.74,204.95 425.91,231.31 404.86,226.18" fill="#c6ecd4"/>
<polygon points="452.36,210.08 481.83,217.25 488.21,212.13 458.74,204.95" fill="#c8eef0" opacity="0.7"/>
<polyline points="396.65,238.77 448.86,251.48 490.35,218.17" fill="none" stroke="#222" stroke-width="0.5"/>
<polyline points="486.98,210.35 492.04,211.58 485.20,217.07 485.20,224.07" fill="none" stroke="#222" stroke-width="0.4"/>
<ellipse cx="443.03" cy="196.64" rx="14.8" ry="4.7" fill="none" stroke="#2040d0" stroke-width="0.8"/>
<line x1="444.09" y1="197.28" x2="444.09" y2="212.21" stroke="#e01010" stroke-width="1.5"/>
<polygon points="442.19,210.71 445.99,210.71 444.09,215.21" fill="#e01010"/>
<line x1="444.09" y1="197.28" x2="457.85" y2="199.39" stroke="#2040d0" stroke-width="0.7"/>
<text x="461.20" y="204.80" font-size="7.8" text-anchor="start" fill="#2040d0" font-weight="bold" font-family="Liberation Serif">E</text>
<text x="446.60" y="218.50" font-size="7" text-anchor="start" fill="#e01010" font-weight="bold" font-family="Liberation Serif">k</text>
<text x="421.86" y="251.05" font-size="3.2" text-anchor="start" fill="#333" font-weight="normal" font-style="italic" font-family="Liberation Serif">P</text>
<text x="471.19" y="237.92" font-size="3.2" text-anchor="start" fill="#333" font-weight="normal" font-style="italic" font-family="Liberation Serif">l</text>
<text x="484.31" y="242.58" font-size="3.2" text-anchor="start" fill="#333" font-weight="normal" font-style="italic" font-family="Liberation Serif">P</text>
<text x="426.10" y="240.46" font-size="3.2" text-anchor="start" fill="#333" font-weight="normal" font-style="italic" font-family="Liberation Serif">w</text>
<text x="478.38" y="219.93" font-size="3.2" text-anchor="start" fill="#333" font-weight="normal" font-style="italic" font-family="Liberation Serif">h</text>
<text x="482.19" y="212.94" font-size="3.2" text-anchor="start" fill="#333" font-weight="normal" font-style="italic" font-family="Liberation Serif">w</text>
<path d="M378.8,269.5 V258.8 M378.8,269.5 L389.5,262.3 M378.8,269.5 L391.8,273.4" fill="none" stroke="#111" stroke-width="0.7"/>
<polygon points="377.9,260.8 378.8,257.6 379.7,260.8" fill="#111"/>
<polygon points="387.6,262.9 390.3,261.7 388.6,264.2" fill="#111"/>
<polygon points="389.9,272.1 392.6,273.7 389.5,274" fill="#111"/>
<text x="380.60" y="259.80" font-size="3.4" text-anchor="start" fill="#333" font-weight="normal" font-style="italic" font-family="Liberation Serif">z</text>
<text x="389.20" y="262.40" font-size="3.4" text-anchor="start" fill="#333" font-weight="normal" font-style="italic" font-family="Liberation Serif">y</text>
<text x="390.80" y="276.80" font-size="3.4" text-anchor="start" fill="#333" font-weight="normal" font-style="italic" font-family="Liberation Serif">x</text></g>
<g id="img_c"><defs>
<linearGradient id="cbl" x1="0" y1="0" x2="1" y2="0"><stop offset="0" stop-color="#acd0ef"/><stop offset="0.45" stop-color="#d8e8f8"/><stop offset="1" stop-color="#f8fbff"/></linearGradient>
<linearGradient id="cor" x1="0" y1="0" x2="1" y2="0"><stop offset="0" stop-color="#fffdfa"/><stop offset="0.5" stop-color="#fdf0e4"/><stop offset="1" stop-color="#f9d2b0"/></linearGradient>
<linearGradient id="cdiv" x1="0" y1="0" x2="1" y2="0"><stop offset="0" stop-color="#e8e8f0"/><stop offset="0.5" stop-color="#c0c0d4"/><stop offset="1" stop-color="#e8e8f0"/></linearGradient>
<radialGradient id="cblob" cx="0.5" cy="0.5" r="0.5"><stop offset="0" stop-color="#dcbc50" stop-opacity="0.7"/><stop offset="1" stop-color="#dcbc50" stop-opacity="0"/></radialGradient>
<radialGradient id="chl" cx="0.5" cy="0.5" r="0.5"><stop offset="0" stop-color="#fffdf0" stop-opacity="0.95"/><stop offset="1" stop-color="#fffdf0" stop-opacity="0"/></radialGradient>
<pattern id="cbump" width="16" height="13" patternUnits="userSpaceOnUse" patternTransform="rotate(-6)"><rect width="16" height="13" fill="#f8e690"/><ellipse cx="10" cy="8.5" rx="7" ry="5.2" fill="url(#cblob)"/><ellipse cx="2" cy="2" rx="4.5" ry="3.4" fill="url(#cblob)"/><ellipse cx="5.5" cy="4" rx="5.5" ry="4" fill="url(#chl)"/><ellipse cx="13.5" cy="12" rx="3.6" ry="2.8" fill="url(#chl)"/></pattern>
<pattern id="csem" width="3.6" height="3.3" patternUnits="userSpaceOnUse" patternTransform="rotate(35)"><rect width="3.6" height="3.3" fill="#ece8da"/><rect x="0.2" y="0.2" width="2.6" height="1.5" rx="0.6" fill="#3a3a44"/></pattern>
<pattern id="csem2" width="3.6" height="3.3" patternUnits="userSpaceOnUse" patternTransform="rotate(32)"><rect width="3.6" height="3.3" fill="#e4e4e0"/><rect x="0.2" y="0.2" width="2.6" height="1.5" rx="0.6" fill="#404450"/></pattern>
<radialGradient id="cyz" cx="0.5" cy="0.5" r="0.7"><stop offset="0" stop-color="#fcf4b8"/><stop offset="1" stop-color="#f6e490"/></radialGradient>
</defs>
<rect x="28.2" y="331" width="144.3" height="79.6" fill="url(#cbl)"/>
<rect x="182.6" y="331" width="143.8" height="79.6" fill="url(#cor)"/>
<rect x="172.3" y="330.3" width="10.3" height="80.5" fill="url(#cdiv)"/>
<line x1="177.4" y1="331" x2="177.4" y2="370" stroke="#4050e0" stroke-width="0.6" stroke-dasharray="1.5,1.2"/>
<line x1="177.4" y1="370" x2="177.4" y2="410" stroke="#e06040" stroke-width="0.6" stroke-dasharray="1.5,1.2"/>
<path d="M48.00,351.07 C48.95,350.51 51.81,347.76 53.72,347.71 C55.63,347.65 57.53,350.78 59.44,350.72 C61.35,350.65 63.25,347.34 65.16,347.29 C67.07,347.25 68.97,350.61 70.88,350.46 C72.79,350.31 74.69,346.56 76.60,346.40 C78.51,346.24 80.41,349.48 82.32,349.51 C84.23,349.54 86.13,346.60 88.04,346.56 C89.95,346.52 91.85,349.40 93.76,349.25 C95.67,349.09 97.57,345.60 99.48,345.62 C101.39,345.64 103.69,346.78 105.20,349.38 C106.71,351.98 107.31,357.08 108.53,361.23 C109.74,365.37 111.36,369.91 112.49,374.25 C113.61,378.59 114.25,383.09 115.29,387.27 C116.32,391.46 119.49,396.86 118.70,399.37 C117.91,401.88 113.25,402.26 110.52,402.34 C107.79,402.42 105.07,399.67 102.34,399.85 C99.61,400.02 96.89,403.33 94.16,403.39 C91.43,403.46 88.71,400.18 85.98,400.24 C83.25,400.30 80.53,403.67 77.80,403.77 C75.07,403.87 72.35,400.85 69.62,400.84 C66.89,400.83 64.17,403.62 61.44,403.71 C58.71,403.80 55.99,401.24 53.26,401.39 C50.53,401.54 47.81,404.59 45.08,404.61 C42.35,404.63 37.93,403.99 36.90,401.50 C35.87,399.01 37.90,393.80 38.92,389.65 C39.95,385.50 41.99,380.95 43.03,376.60 C44.08,372.25 44.35,367.80 45.18,363.55 C46.01,359.30 47.53,353.15 48.00,351.07" fill="url(#cbump)"/>
<path d="M247.00,349.06 C247.99,348.66 250.97,346.53 252.95,346.64 C254.93,346.75 256.92,349.63 258.90,349.72 C260.88,349.81 262.87,347.06 264.85,347.17 C266.83,347.29 268.82,350.37 270.80,350.43 C272.78,350.49 274.77,347.30 276.75,347.55 C278.73,347.79 280.72,351.78 282.70,351.90 C284.68,352.02 286.67,348.18 288.65,348.26 C290.63,348.33 292.62,352.20 294.60,352.35 C296.58,352.51 298.57,349.10 300.55,349.20 C302.53,349.30 305.04,350.33 306.50,352.94 C307.96,355.56 308.44,360.79 309.29,364.90 C310.14,369.01 310.58,373.37 311.61,377.60 C312.63,381.83 314.41,386.29 315.43,390.30 C316.44,394.31 318.71,399.24 317.70,401.63 C316.69,404.02 312.16,404.72 309.39,404.63 C306.62,404.54 303.85,401.17 301.08,401.10 C298.31,401.02 295.54,404.20 292.77,404.17 C290.00,404.15 287.23,400.92 284.46,400.93 C281.69,400.93 278.92,404.29 276.15,404.20 C273.38,404.12 270.61,400.61 267.84,400.42 C265.07,400.24 262.30,403.19 259.53,403.09 C256.76,402.99 253.99,399.81 251.22,399.85 C248.45,399.88 245.68,403.42 242.91,403.31 C240.14,403.21 235.44,401.83 234.60,399.21 C233.76,396.59 236.89,391.69 237.89,387.58 C238.89,383.46 239.56,378.89 240.60,374.55 C241.65,370.21 243.09,365.77 244.16,361.52 C245.22,357.28 246.53,351.14 247.00,349.06" fill="url(#cbump)"/>
<rect x="77.4" y="368.5" width="25.4" height="23.8" fill="none" stroke="#4a90a0" stroke-width="0.5" stroke-dasharray="1,0.8"/>
<polyline points="102.8,368.5 127.1,377" fill="none" stroke="#5aa0d0" stroke-width="0.45" stroke-dasharray="1.2,0.8"/>
<polyline points="102.8,392.3 127.1,410.5" fill="none" stroke="#5aa0d0" stroke-width="0.45" stroke-dasharray="1.2,0.8"/>
<rect x="251" y="368" width="25" height="23" fill="none" stroke="#f0a060" stroke-width="0.5" stroke-dasharray="1,0.8"/>
<polyline points="251,368 227,377" fill="none" stroke="#f0a060" stroke-width="0.45" stroke-dasharray="1.2,0.8"/>
<polyline points="251,391 227,410.5" fill="none" stroke="#f0a060" stroke-width="0.45" stroke-dasharray="1.2,0.8"/>
<rect x="127.1" y="337.2" width="43" height="33.6" fill="url(#csem)"/>
<rect x="184" y="337.2" width="43" height="33.6" fill="url(#csem2)"/>
<rect x="160.5" y="368.2" width="6" height="1.1" fill="#000"/>
<rect x="217.5" y="368.2" width="6" height="1.1" fill="#000"/>
<rect x="127.1" y="377" width="43.2" height="33.6" fill="url(#cyz)" stroke="#5aa0a0" stroke-width="0.4" stroke-dasharray="0.8,0.6"/>
<rect x="184" y="377" width="43" height="33.6" fill="url(#cyz)" stroke="#f0b070" stroke-width="0.4" stroke-dasharray="0.8,0.6"/>
<defs><clipPath id="cz1"><rect x="127.1" y="377" width="43.2" height="33.6"/></clipPath><clipPath id="cz2"><rect x="184" y="377" width="43" height="33.6"/></clipPath></defs>
<g clip-path="url(#cz1)">
<circle cx="139.1" cy="381" r="4" fill="none" stroke="#e6cc6a" stroke-width="0.6" opacity="0.55"/>
<circle cx="139.1" cy="381" r="7" fill="none" stroke="#e6cc6a" stroke-width="0.6" opacity="0.55"/>
<circle cx="139.1" cy="381" r="10" fill="none" stroke="#e6cc6a" stroke-width="0.6" opacity="0.55"/>
<circle cx="139.1" cy="381" r="13" fill="none" stroke="#e6cc6a" stroke-width="0.6" opacity="0.55"/>
<circle cx="139.1" cy="381" r="16" fill="none" stroke="#e6cc6a" stroke-width="0.6" opacity="0.55"/>
<circle cx="160.1" cy="384" r="4" fill="none" stroke="#e6cc6a" stroke-width="0.6" opacity="0.55"/>
<circle cx="160.1" cy="384" r="7" fill="none" stroke="#e6cc6a" stroke-width="0.6" opacity="0.55"/>
<circle cx="160.1" cy="384" r="10" fill="none" stroke="#e6cc6a" stroke-width="0.6" opacity="0.55"/>
<circle cx="160.1" cy="384" r="13" fill="none" stroke="#e6cc6a" stroke-width="0.6" opacity="0.55"/>
<circle cx="160.1" cy="384" r="16" fill="none" stroke="#e6cc6a" stroke-width="0.6" opacity="0.55"/>
<circle cx="149.1" cy="412" r="5" fill="none" stroke="#e6cc6a" stroke-width="0.6" opacity="0.55"/>
<circle cx="149.1" cy="412" r="9" fill="none" stroke="#e6cc6a" stroke-width="0.6" opacity="0.55"/>
<circle cx="149.1" cy="412" r="13" fill="none" stroke="#e6cc6a" stroke-width="0.6" opacity="0.55"/>
<circle cx="149.1" cy="412" r="17" fill="none" stroke="#e6cc6a" stroke-width="0.6" opacity="0.55"/>
<circle cx="149.1" cy="412" r="21" fill="none" stroke="#e6cc6a" stroke-width="0.6" opacity="0.55"/>
<circle cx="149.1" cy="412" r="25" fill="none" stroke="#e6cc6a" stroke-width="0.6" opacity="0.55"/>
<ellipse cx="139.1" cy="381" rx="7" ry="5" fill="#fffbe0" opacity="0.5"/>
<ellipse cx="160.1" cy="384" rx="7" ry="5" fill="#fffbe0" opacity="0.5"/>
</g>
<g clip-path="url(#cz2)">
<circle cx="196" cy="381" r="4" fill="none" stroke="#e6cc6a" stroke-width="0.6" opacity="0.55"/>
<circle cx="196" cy="381" r="7" fill="none" stroke="#e6cc6a" stroke-width="0.6" opacity="0.55"/>
<circle cx="196" cy="381" r="10" fill="none" stroke="#e6cc6a" stroke-width="0.6" opacity="0.55"/>
<circle cx="196" cy="381" r="13" fill="none" stroke="#e6cc6a" stroke-width="0.6" opacity="0.55"/>
<circle cx="196" cy="381" r="16" fill="none" stroke="#e6cc6a" stroke-width="0.6" opacity="0.55"/>
<circle cx="217" cy="384" r="4" fill="none" stroke="#e6cc6a" stroke-width="0.6" opacity="0.55"/>
<circle cx="217" cy="384" r="7" fill="none" stroke="#e6cc6a" stroke-width="0.6" opacity="0.55"/>
<circle cx="217" cy="384" r="10" fill="none" stroke="#e6cc6a" stroke-width="0.6" opacity="0.55"/>
<circle cx="217" cy="384" r="13" fill="none" stroke="#e6cc6a" stroke-width="0.6" opacity="0.55"/>
<circle cx="217" cy="384" r="16" fill="none" stroke="#e6cc6a" stroke-width="0.6" opacity="0.55"/>
<circle cx="206" cy="412" r="5" fill="none" stroke="#e6cc6a" stroke-width="0.6" opacity="0.55"/>
<circle cx="206" cy="412" r="9" fill="none" stroke="#e6cc6a" stroke-width="0.6" opacity="0.55"/>
<circle cx="206" cy="412" r="13" fill="none" stroke="#e6cc6a" stroke-width="0.6" opacity="0.55"/>
<circle cx="206" cy="412" r="17" fill="none" stroke="#e6cc6a" stroke-width="0.6" opacity="0.55"/>
<circle cx="206" cy="412" r="21" fill="none" stroke="#e6cc6a" stroke-width="0.6" opacity="0.55"/>
<circle cx="206" cy="412" r="25" fill="none" stroke="#e6cc6a" stroke-width="0.6" opacity="0.55"/>
<ellipse cx="196" cy="381" rx="7" ry="5" fill="#fffbe0" opacity="0.5"/>
<ellipse cx="217" cy="384" rx="7" ry="5" fill="#fffbe0" opacity="0.5"/>
</g>
<text x="77.00" y="338.90" font-size="5.3" text-anchor="middle" fill="#2a66d8" font-weight="bold" >LH Pattern</text>
<text x="276.80" y="338.50" font-size="5.3" text-anchor="middle" fill="#f08020" font-weight="bold" >RH Pattern</text></g>
<g id="img_f"><defs>
<linearGradient id="fcard" x1="0" y1="0" x2="1" y2="0"><stop offset="0" stop-color="#d6d6d6"/><stop offset="0.5" stop-color="#f0f0f0"/><stop offset="1" stop-color="#dadada"/></linearGradient>
<linearGradient id="fgreen" x1="0" y1="0" x2="1" y2="1"><stop offset="0" stop-color="#2cb038"/><stop offset="1" stop-color="#22a030"/></linearGradient>
<marker id="ah" viewBox="0 0 6 6" refX="5" refY="3" markerWidth="3.2" markerHeight="3.2" orient="auto-start-reverse"><path d="M0,0 L6,3 L0,6 Z" fill="#111"/></marker>
</defs>
<rect x="356.1" y="333.9" width="88.39999999999998" height="88.30000000000001" fill="url(#fcard)"/>
<polygon points="361,394.1 439.2,394.1 438.3,417 362.8,417" fill="#5c5c5c"/>
<polygon points="361,394.1 439.2,394.1 438.9,407.3 361.3,407.3" fill="#e8a23a"/>
<polygon points="361,394.1 439.2,394.1 439.2,400.3 361,400.3" fill="#2a9a3a"/>
<line x1="361" y1="395.00" x2="439.2" y2="395.00" stroke="#1a6a2a" stroke-width="0.35"/>
<line x1="361" y1="396.48" x2="439.2" y2="396.48" stroke="#1a6a2a" stroke-width="0.35"/>
<line x1="361" y1="397.95" x2="439.2" y2="397.95" stroke="#1a6a2a" stroke-width="0.35"/>
<line x1="361" y1="399.43" x2="439.2" y2="399.43" stroke="#1a6a2a" stroke-width="0.35"/>
<polygon points="367.10,337.90 434.00,337.70 439.20,394.10 361.00,394.10" fill="url(#fgreen)"/>
<polygon points="376.47,343.16 408.77,343.16 408.77,354.26 421.38,358.80 421.89,356.27 428.95,351.23 431.98,353.25 427.44,359.81 417.85,375.25 403.22,369.19 398.68,368.38 390.10,372.93 396.15,384.53 391.41,387.36 374.46,363.54 390.60,355.47 390.60,347.19 376.47,347.19" fill="#b88428"/>
<polygon points="376.07,342.06 408.37,342.06 408.37,353.16 420.98,357.70 421.49,355.17 428.55,350.13 431.58,352.15 427.04,358.71 417.45,374.15 402.82,368.09 398.28,367.28 389.70,371.83 395.75,383.43 391.01,386.26 374.06,362.44 390.20,354.37 390.20,346.09 376.07,346.09" fill="#f2b24a"/>
<text x="393.30" y="359.90" font-size="6.1" text-anchor="start" fill="#222" font-weight="normal" >500</text>
<text x="411.00" y="369.00" font-size="6.6" text-anchor="start" fill="#222" font-weight="normal" >Au</text>
<text x="421.40" y="353.70" font-size="6.1" text-anchor="start" fill="#222" font-weight="normal" >150</text>
<text x="372.30" y="379.70" font-size="6.1" text-anchor="start" fill="#222" font-weight="normal" >660</text>
<text x="390.70" y="377.40" font-size="6.1" text-anchor="start" fill="#222" font-weight="normal" >335</text>
<text x="405.60" y="381.00" font-size="6.1" text-anchor="start" fill="#222" font-weight="normal" >485</text>
<text x="408.30" y="400.20" font-size="6.8" text-anchor="start" fill="#fff" font-weight="normal" >MQW</text>
<text x="425.80" y="403.10" font-size="5.8" text-anchor="start" fill="#222" font-weight="normal" >Ti/Pt</text>
<text x="409.20" y="407.40" font-size="6.8" text-anchor="start" fill="#fff" font-weight="normal" >Au</text>
<text x="369.60" y="416.10" font-size="6.2" text-anchor="start" fill="#fff" font-weight="normal" >(Unit : nm)</text>
<text x="408.30" y="416.60" font-size="7.2" text-anchor="start" fill="#fff" font-weight="normal" >GaAs</text>
<rect x="354.6" y="435.5" width="88.79999999999995" height="88.70000000000005" fill="url(#fcard)"/>
<polygon points="358.7,497 438.1,497 436.5,520.7 362,520.7" fill="#5c5c5c"/>
<polygon points="358.7,497 438.1,497 437.8,510.2 359.0,510.2" fill="#e8a23a"/>
<polygon points="358.7,497 438.1,497 438.1,502.3 358.7,502.3" fill="#2a9a3a"/>
<line x1="358.7" y1="497.90" x2="438.1" y2="497.90" stroke="#1a6a2a" stroke-width="0.35"/>
<line x1="358.7" y1="499.16" x2="438.1" y2="499.16" stroke="#1a6a2a" stroke-width="0.35"/>
<line x1="358.7" y1="500.42" x2="438.1" y2="500.42" stroke="#1a6a2a" stroke-width="0.35"/>
<line x1="358.7" y1="501.69" x2="438.1" y2="501.69" stroke="#1a6a2a" stroke-width="0.35"/>
<polygon points="364.30,439.00 432.80,439.00 438.10,497.00 358.70,497.00" fill="url(#fgreen)"/>
<polygon points="370.29,447.36 378.06,447.36 378.06,457.08 388.76,457.08 388.76,441.53 419.37,441.53 419.37,446.88 405.77,446.88 405.77,454.17 428.12,454.17 428.12,479.92 421.32,479.92 421.32,467.77 410.63,467.77 410.63,487.21 375.63,487.21 375.63,480.41 391.19,480.41 391.19,471.18 368.83,471.18" fill="#b88428"/>
<polygon points="369.89,446.26 377.66,446.26 377.66,455.98 388.36,455.98 388.36,440.43 418.97,440.43 418.97,445.78 405.37,445.78 405.37,453.07 427.72,453.07 427.72,478.82 420.92,478.82 420.92,466.67 410.23,466.67 410.23,486.11 375.23,486.11 375.23,479.31 390.79,479.31 390.79,470.08 368.43,470.08" fill="#f2b24a"/>
<text x="390.50" y="457.50" font-size="6.1" text-anchor="start" fill="#222" font-weight="normal" >430</text>
<text x="423.00" y="476.80" font-size="6.6" text-anchor="start" fill="#222" font-weight="normal" >Au</text>
<text x="418.60" y="464.50" font-size="6.1" text-anchor="start" fill="#222" font-weight="normal" >150</text>
<text x="394.00" y="475.90" font-size="6.1" text-anchor="start" fill="#222" font-weight="normal" >320</text>
<text x="414.20" y="487.40" font-size="6.1" text-anchor="start" fill="#222" font-weight="normal" >580</text>
<text x="388.70" y="492.60" font-size="6.1" text-anchor="start" fill="#222" font-weight="normal" >670</text>
<text x="417.70" y="501.00" font-size="6.8" text-anchor="start" fill="#fff" font-weight="normal" >MQW</text>
<text x="402.80" y="503.90" font-size="5.8" text-anchor="start" fill="#222" font-weight="normal" >Ti/Pt</text>
<text x="416.80" y="509.40" font-size="6.8" text-anchor="start" fill="#fff" font-weight="normal" >Au</text>
<text x="367.60" y="517.80" font-size="6.2" text-anchor="start" fill="#fff" font-weight="normal" >(Unit : nm)</text>
<text x="415.90" y="518.30" font-size="7.2" text-anchor="start" fill="#fff" font-weight="normal" >GaAs</text>
<line x1="390" y1="351.1" x2="407.6" y2="351.1" stroke="#111" stroke-width="0.6" marker-start="url(#ah)" marker-end="url(#ah)"/>
<line x1="375.1" y1="362.5" x2="390.9" y2="384.5" stroke="#111" stroke-width="0.6" marker-start="url(#ah)" marker-end="url(#ah)"/>
<line x1="390" y1="372.2" x2="400.6" y2="367.8" stroke="#111" stroke-width="0.6" marker-start="url(#ah)" marker-end="url(#ah)"/>
<line x1="401.4" y1="367.8" x2="415.5" y2="373" stroke="#111" stroke-width="0.6" marker-start="url(#ah)" marker-end="url(#ah)"/>
<line x1="421.5" y1="357.5" x2="426.5" y2="359" stroke="#111" stroke-width="0.6" marker-start="url(#ah)" marker-end="url(#ah)"/>
<line x1="388" y1="450.5" x2="404.7" y2="450.5" stroke="#111" stroke-width="0.6" marker-start="url(#ah)" marker-end="url(#ah)"/>
<line x1="391.5" y1="469.8" x2="391.5" y2="476.8" stroke="#111" stroke-width="0.6" marker-start="url(#ah)" marker-end="url(#ah)"/>
<line x1="410.9" y1="467.1" x2="410.9" y2="485.6" stroke="#111" stroke-width="0.6" marker-start="url(#ah)" marker-end="url(#ah)"/>
<line x1="376.6" y1="484.4" x2="410" y2="484.4" stroke="#111" stroke-width="0.6" marker-start="url(#ah)" marker-end="url(#ah)"/>
<line x1="420.5" y1="466.3" x2="429.3" y2="466.3" stroke="#111" stroke-width="0.6" marker-start="url(#ah)" marker-end="url(#ah)"/>
<path d="M362.8,392.4 h14 M362.8,392.4 l1.8,-19 M362.8,392.4 l-1.8,-15" fill="none" stroke="#111" stroke-width="0.7"/>
<polygon points="376.8,391.2 379.3,392.4 376.8,393.59999999999997" fill="#111"/>
<text x="380.30" y="394.40" font-size="6" text-anchor="start" fill="#222" font-weight="normal" >x</text>
<text x="366.10" y="377.40" font-size="6" text-anchor="start" fill="#222" font-weight="normal" >y</text>
<text x="356.60" y="379.90" font-size="6" text-anchor="start" fill="#222" font-weight="normal" >z</text>
<path d="M359.9,493.5 h14 M359.9,493.5 l1.8,-19 M359.9,493.5 l-1.8,-15" fill="none" stroke="#111" stroke-width="0.7"/>
<polygon points="373.9,492.3 376.4,493.5 373.9,494.7" fill="#111"/>
<text x="377.40" y="495.50" font-size="6" text-anchor="start" fill="#222" font-weight="normal" >x</text>
<text x="363.20" y="478.50" font-size="6" text-anchor="start" fill="#222" font-weight="normal" >y</text>
<text x="353.70" y="481.00" font-size="6" text-anchor="start" fill="#222" font-weight="normal" >z</text>
<rect x="447.9" y="329" width="75.7" height="93.8" fill="#3c3c3e"/>
<rect x="448.6" y="431.5" width="75.4" height="94.5" fill="#2c2c2e"/>
<defs><clipPath id="fsem1"><rect x="447.9" y="329" width="75.7" height="93.8"/></clipPath><clipPath id="fsem2"><rect x="448.6" y="431.5" width="75.4" height="94.5"/></clipPath>
<g id="fsh1"><polygon points="-10.29,-4.21 -2.34,-9.07 -0.94,-7.20 -8.89,-2.15" fill="#c0c0c0" stroke="#c0c0c0" stroke-width="1.2" stroke-linejoin="round"/><polygon points="-4.21,-5.33 6.08,-5.14 6.08,2.53 0.94,2.90 -4.86,1.40" fill="#c0c0c0" stroke="#c0c0c0" stroke-width="1.2" stroke-linejoin="round"/><polygon points="5.61,-8.42 8.70,-8.42 8.70,2.53 5.61,2.53" fill="#c0c0c0" stroke="#c0c0c0" stroke-width="1.2" stroke-linejoin="round"/><polygon points="-5.80,2.81 -3.55,1.22 3.93,7.02 2.62,9.64" fill="#c0c0c0" stroke="#c0c0c0" stroke-width="1.2" stroke-linejoin="round"/><polygon points="-10.29,-4.21 -2.34,-9.07 -0.94,-7.20 -8.89,-2.15" fill="#707072"/><polygon points="-4.21,-5.33 6.08,-5.14 6.08,2.53 0.94,2.90 -4.86,1.40" fill="#707072"/><polygon points="5.61,-8.42 8.70,-8.42 8.70,2.53 5.61,2.53" fill="#707072"/><polygon points="-5.80,2.81 -3.55,1.22 3.93,7.02 2.62,9.64" fill="#707072"/></g>
<polygon id="fsh2" points="-8.77,-4.91 -6.38,-4.91 -6.38,-1.93 -3.10,-1.93 -3.10,-6.70 6.31,-6.70 6.31,-5.06 2.13,-5.06 2.13,-2.82 8.99,-2.82 8.99,5.09 6.90,5.09 6.90,1.36 3.62,1.36 3.62,7.33 -7.13,7.33 -7.13,5.24 -2.35,5.24 -2.35,2.40 -9.22,2.40" fill="#6c6c6e" stroke="#c4c4c4" stroke-width="0.7"/></defs>
<g clip-path="url(#fsem1)">
<use href="#fsh1" x="462" y="322.8"/>
<use href="#fsh1" x="487.3" y="322.8"/>
<use href="#fsh1" x="512.6" y="322.8"/>
<use href="#fsh1" x="462" y="347.6"/>
<use href="#fsh1" x="487.3" y="347.6"/>
<use href="#fsh1" x="512.6" y="347.6"/>
<use href="#fsh1" x="462" y="372.4"/>
<use href="#fsh1" x="487.3" y="372.4"/>
<use href="#fsh1" x="512.6" y="372.4"/>
<use href="#fsh1" x="462" y="397.2"/>
<use href="#fsh1" x="487.3" y="397.2"/>
<use href="#fsh1" x="512.6" y="397.2"/>
<use href="#fsh1" x="462" y="422"/>
<use href="#fsh1" x="487.3" y="422"/>
<use href="#fsh1" x="512.6" y="422"/>
</g><g clip-path="url(#fsem2)">
<use href="#fsh2" x="460.6" y="423.7"/>
<use href="#fsh2" x="487.8" y="423.7"/>
<use href="#fsh2" x="515" y="423.7"/>
<use href="#fsh2" x="460.6" y="450.4"/>
<use href="#fsh2" x="487.8" y="450.4"/>
<use href="#fsh2" x="515" y="450.4"/>
<use href="#fsh2" x="460.6" y="477.1"/>
<use href="#fsh2" x="487.8" y="477.1"/>
<use href="#fsh2" x="515" y="477.1"/>
<use href="#fsh2" x="460.6" y="503.8"/>
<use href="#fsh2" x="487.8" y="503.8"/>
<use href="#fsh2" x="515" y="503.8"/>
<use href="#fsh2" x="460.6" y="530.5"/>
<use href="#fsh2" x="487.8" y="530.5"/>
<use href="#fsh2" x="515" y="530.5"/>
</g>
<rect x="496.5" y="419.8" width="24" height="1.3" fill="#fff"/>
<text x="505.00" y="417.80" font-size="6.6" text-anchor="start" fill="#fff" font-weight="normal" >2μm</text>
<rect x="493" y="521.7" width="28" height="1.3" fill="#fff"/>
<text x="500.00" y="519.30" font-size="6.6" text-anchor="start" fill="#fff" font-weight="normal" >2μm</text></g>
<g id="img_f_insets"><rect x="633.4" y="378.4" width="38.60000000000002" height="38.60000000000002" fill="#ececec"/>
<polygon points="636.10,406.96 671.23,406.96 670.07,416.03 637.26,416.03" fill="#5e5e5e"/>
<polygon points="635.33,406.96 671.61,406.96 671.23,411.60 635.72,411.60" fill="#eaa23c"/>
<polygon points="634.94,405.81 671.61,405.81 671.61,407.93 634.94,407.93" fill="#1a8a30"/>
<polygon points="638.03,379.56 668.14,379.56 671.61,406.19 634.94,406.19" fill="#16aa3a"/>
<polygon points="642.56,381.97 656.78,381.97 656.78,386.86 662.33,388.86 662.56,387.74 665.67,385.52 667.00,386.41 665.00,389.30 660.78,396.10 654.33,393.43 652.33,393.08 648.56,395.08 651.22,400.19 649.13,401.43 641.67,390.94 648.78,387.39 648.78,383.74 642.56,383.74" fill="#c08a30"/>
<polygon points="642.26,381.27 656.48,381.27 656.48,386.16 662.03,388.16 662.26,387.04 665.37,384.82 666.70,385.71 664.70,388.60 660.48,395.40 654.03,392.73 652.03,392.38 648.26,394.38 650.92,399.49 648.83,400.73 641.37,390.24 648.48,386.69 648.48,383.04 642.26,383.04" fill="#f6b24a"/>
<rect x="634.2" y="471.4" width="38.69999999999993" height="38.60000000000002" fill="#ececec"/>
<polygon points="636.91,499.96 672.13,499.96 670.97,509.03 638.07,509.03" fill="#5e5e5e"/>
<polygon points="636.13,499.96 672.51,499.96 672.13,504.60 636.52,504.60" fill="#eaa23c"/>
<polygon points="635.75,498.81 672.51,498.81 672.51,500.93 635.75,500.93" fill="#1a8a30"/>
<polygon points="638.84,472.56 669.03,472.56 672.51,499.19 635.75,499.19" fill="#16aa3a"/>
<polygon points="641.82,477.55 645.25,477.55 645.25,481.84 649.97,481.84 649.97,474.97 663.49,474.97 663.49,477.33 657.48,477.33 657.48,480.55 667.35,480.55 667.35,491.93 664.35,491.93 664.35,486.56 659.63,486.56 659.63,495.14 644.18,495.14 644.18,492.14 651.04,492.14 651.04,488.06 641.17,488.06" fill="#c08a30"/>
<polygon points="641.52,476.85 644.95,476.85 644.95,481.14 649.67,481.14 649.67,474.27 663.19,474.27 663.19,476.63 657.18,476.63 657.18,479.85 667.05,479.85 667.05,491.23 664.05,491.23 664.05,485.86 659.33,485.86 659.33,494.44 643.88,494.44 643.88,491.44 650.74,491.44 650.74,487.36 640.87,487.36" fill="#f6b24a"/></g>
<rect x="276" y="14.4" width="53.2" height="59.1" fill="#e9699a"/>
<polygon points="280.3,20.8 317.1,17 320,58.3 283.4,62.1" fill="#5a3fae"/>
<polygon points="280.3,20.8 317.1,17 318.6,40 " fill="#7a3aa8" opacity="0.7"/>
<circle cx="308.6" cy="22.7" r="2" fill="#1f8a3a" stroke="#222" stroke-width="0.4"/>
<circle cx="298.4" cy="40.9" r="2" fill="#2f7fd6" stroke="#222" stroke-width="0.4"/>
<circle cx="296.8" cy="65.7" r="2" fill="#d8101a" stroke="#222" stroke-width="0.4"/>
<circle cx="284.7" cy="70.4" r="2" fill="#333" stroke="#111" stroke-width="0.4"/>
<text x="308.60" y="67.80" font-size="7.1" text-anchor="start" fill="#fff" font-weight="normal" >10 μm</text>
<line x1="312.7" y1="71.6" x2="324" y2="71.6" stroke="#fff" stroke-width="1"/>
<path d="M213.36,104.71 C215.59,104.75 222.10,104.85 226.73,104.92 C231.35,104.99 235.29,105.05 241.12,105.12 C246.94,105.19 254.82,105.23 261.68,105.33 C268.53,105.43 275.38,105.64 282.24,105.74 C289.09,105.84 294.30,105.88 302.80,105.95 C311.29,106.01 328.15,106.12 333.22,106.15" fill="none" stroke="#3a3a3a" stroke-width="1.4"/>
<path d="M213.36,101.22 C213.88,101.05 215.25,100.53 216.45,100.19 C217.65,99.85 219.36,99.44 220.56,99.16 C221.76,98.89 222.62,98.65 223.64,98.54 C224.67,98.44 225.53,98.65 226.73,98.54 C227.93,98.44 229.47,98.13 230.84,97.93 C232.21,97.72 233.58,97.48 234.95,97.31 C236.32,97.14 237.69,96.90 239.06,96.90 C240.43,96.90 241.80,97.14 243.17,97.31 C244.54,97.48 246.09,97.93 247.29,97.93 C248.49,97.93 249.51,97.55 250.37,97.31 C251.23,97.07 251.84,96.80 252.43,96.49 C253.01,96.18 253.42,95.56 253.87,95.46 C254.31,95.36 254.65,95.60 255.10,95.87 C255.54,96.15 255.78,96.76 256.54,97.11 C257.29,97.45 258.77,97.69 259.62,97.93 C260.48,98.17 260.48,98.30 261.68,98.54 C262.88,98.78 265.10,99.13 266.82,99.37 C268.53,99.61 270.24,99.81 271.96,99.98 C273.67,100.15 275.38,100.29 277.10,100.39 C278.81,100.50 280.52,100.53 282.24,100.60 C283.95,100.67 285.66,100.74 287.38,100.81 C289.09,100.87 290.80,100.91 292.52,101.01 C294.23,101.11 295.94,101.32 297.66,101.42 C299.37,101.53 301.08,101.53 302.80,101.63 C304.51,101.73 306.22,101.87 307.94,102.04 C309.65,102.21 310.51,102.45 313.08,102.66 C315.65,102.86 320.00,103.10 323.36,103.27 C326.71,103.44 331.58,103.62 333.22,103.68" fill="none" stroke="#2a8a3a" stroke-width="1.3"/>
<path d="M213.36,77.99 C213.60,76.79 214.29,73.02 214.80,70.79 C215.32,68.56 215.90,65.82 216.45,64.62 C217.00,63.42 217.58,63.94 218.09,63.59 C218.61,63.25 218.95,63.08 219.53,62.57 C220.11,62.05 220.90,61.13 221.59,60.51 C222.27,59.89 223.06,59.00 223.64,58.87 C224.23,58.73 224.57,59.24 225.08,59.69 C225.60,60.13 226.11,60.37 226.73,61.54 C227.34,62.70 228.10,64.79 228.78,66.68 C229.47,68.56 230.15,70.79 230.84,72.85 C231.52,74.90 232.21,77.30 232.89,79.01 C233.58,80.73 234.27,81.93 234.95,83.12 C235.64,84.32 236.32,85.35 237.01,86.21 C237.69,87.07 238.38,87.75 239.06,88.26 C239.75,88.78 240.26,89.19 241.12,89.29 C241.98,89.40 243.17,89.05 244.20,88.88 C245.23,88.71 246.09,88.47 247.29,88.26 C248.49,88.06 250.20,87.82 251.40,87.65 C252.60,87.48 253.45,87.13 254.48,87.24 C255.51,87.34 256.71,87.92 257.57,88.26 C258.42,88.61 258.59,88.85 259.62,89.29 C260.65,89.74 262.36,90.42 263.73,90.94 C265.10,91.45 266.47,91.90 267.85,92.38 C269.22,92.86 270.59,93.30 271.96,93.82 C273.33,94.33 274.53,94.91 276.07,95.46 C277.61,96.01 279.50,96.59 281.21,97.11 C282.92,97.62 284.64,98.13 286.35,98.54 C288.06,98.96 289.78,99.23 291.49,99.57 C293.20,99.92 294.92,100.29 296.63,100.60 C298.34,100.91 300.05,101.18 301.77,101.42 C303.48,101.66 305.02,101.83 306.91,102.04 C308.79,102.25 311.02,102.45 313.08,102.66 C315.13,102.86 317.02,103.07 319.24,103.27 C321.47,103.48 324.11,103.72 326.44,103.89 C328.77,104.06 332.09,104.23 333.22,104.30" fill="none" stroke="#d93030" stroke-width="1.4"/>
<path d="M213.36,48.17 C213.60,46.46 214.29,41.66 214.80,37.89 C215.32,34.13 216.00,28.47 216.45,25.56 C216.89,22.65 217.20,20.76 217.48,20.42 C217.75,20.08 217.85,23.33 218.09,23.50 C218.33,23.67 218.64,21.52 218.91,21.45 C219.19,21.38 219.46,23.26 219.74,23.09 C220.01,22.92 220.25,20.35 220.56,20.42 C220.87,20.49 221.24,23.16 221.59,23.50 C221.93,23.85 222.27,22.82 222.62,22.48 C222.96,22.13 223.30,21.21 223.64,21.45 C223.99,21.69 224.33,23.23 224.67,23.91 C225.01,24.60 225.29,24.26 225.70,25.56 C226.11,26.86 226.62,29.33 227.14,31.73 C227.65,34.13 228.23,37.21 228.78,39.95 C229.33,42.69 229.91,45.78 230.43,48.17 C230.94,50.57 231.28,51.77 231.87,54.34 C232.45,56.91 233.24,60.85 233.92,63.59 C234.61,66.33 235.19,68.73 235.98,70.79 C236.77,72.85 237.79,74.49 238.65,75.93 C239.51,77.37 240.19,78.74 241.12,79.42 C242.04,80.11 243.24,80.18 244.20,80.04 C245.16,79.90 246.02,79.12 246.88,78.60 C247.73,78.09 248.42,77.40 249.34,76.96 C250.27,76.51 251.57,76.10 252.43,75.93 C253.28,75.76 253.69,75.59 254.48,75.93 C255.27,76.27 256.30,77.13 257.15,77.99 C258.01,78.84 258.70,80.04 259.62,81.07 C260.55,82.10 261.68,83.30 262.71,84.15 C263.73,85.01 264.76,85.59 265.79,86.21 C266.82,86.83 267.85,87.34 268.87,87.85 C269.90,88.37 270.59,88.71 271.96,89.29 C273.33,89.88 275.38,90.66 277.10,91.35 C278.81,92.03 280.52,92.72 282.24,93.40 C283.95,94.09 285.66,94.78 287.38,95.46 C289.09,96.15 290.80,96.97 292.52,97.52 C294.23,98.06 295.94,98.34 297.66,98.75 C299.37,99.16 300.23,99.50 302.80,99.98 C305.37,100.46 309.65,101.18 313.08,101.63 C316.50,102.07 320.00,102.38 323.36,102.66 C326.71,102.93 331.58,103.17 333.22,103.27" fill="none" stroke="#3c7fd0" stroke-width="1.4"/>
<rect x="209.3" y="10.1" width="123.89999999999998" height="100.30000000000001" fill="none" stroke="#333" stroke-width="0.8"/>
<line x1="209.3" y1="106.20" x2="211.3" y2="106.20" stroke="#333" stroke-width="0.7"/>
<text x="207.10" y="108.40" font-size="6.1" text-anchor="end" fill="#222" font-weight="normal" >300</text>
<line x1="209.3" y1="83.97" x2="211.3" y2="83.97" stroke="#333" stroke-width="0.7"/>
<text x="207.10" y="86.17" font-size="6.1" text-anchor="end" fill="#222" font-weight="normal" >600</text>
<line x1="209.3" y1="61.74" x2="211.3" y2="61.74" stroke="#333" stroke-width="0.7"/>
<text x="207.10" y="63.94" font-size="6.1" text-anchor="end" fill="#222" font-weight="normal" >900</text>
<line x1="209.3" y1="39.51" x2="211.3" y2="39.51" stroke="#333" stroke-width="0.7"/>
<text x="207.10" y="41.71" font-size="6.1" text-anchor="end" fill="#222" font-weight="normal" >1200</text>
<line x1="209.3" y1="17.28" x2="211.3" y2="17.28" stroke="#333" stroke-width="0.7"/>
<text x="207.10" y="19.48" font-size="6.1" text-anchor="end" fill="#222" font-weight="normal" >1500</text>
<line x1="209.3" y1="95.09" x2="210.5" y2="95.09" stroke="#333" stroke-width="0.6"/>
<line x1="209.3" y1="72.86" x2="210.5" y2="72.86" stroke="#333" stroke-width="0.6"/>
<line x1="209.3" y1="50.62" x2="210.5" y2="50.62" stroke="#333" stroke-width="0.6"/>
<line x1="209.3" y1="28.40" x2="210.5" y2="28.40" stroke="#333" stroke-width="0.6"/>
<line x1="209.30" y1="110.4" x2="209.30" y2="108.4" stroke="#333" stroke-width="0.7"/>
<text x="209.30" y="118.00" font-size="6.1" text-anchor="middle" fill="#222" font-weight="normal" >640</text>
<line x1="240.18" y1="110.4" x2="240.18" y2="108.4" stroke="#333" stroke-width="0.7"/>
<text x="240.18" y="118.00" font-size="6.1" text-anchor="middle" fill="#222" font-weight="normal" >680</text>
<line x1="271.05" y1="110.4" x2="271.05" y2="108.4" stroke="#333" stroke-width="0.7"/>
<text x="271.05" y="118.00" font-size="6.1" text-anchor="middle" fill="#222" font-weight="normal" >720</text>
<line x1="301.93" y1="110.4" x2="301.93" y2="108.4" stroke="#333" stroke-width="0.7"/>
<text x="301.93" y="118.00" font-size="6.1" text-anchor="middle" fill="#222" font-weight="normal" >760</text>
<line x1="332.80" y1="110.4" x2="332.80" y2="108.4" stroke="#333" stroke-width="0.7"/>
<text x="332.80" y="118.00" font-size="6.1" text-anchor="middle" fill="#222" font-weight="normal" >800</text>
<line x1="224.74" y1="110.4" x2="224.74" y2="109.2" stroke="#333" stroke-width="0.6"/>
<line x1="255.61" y1="110.4" x2="255.61" y2="109.2" stroke="#333" stroke-width="0.6"/>
<line x1="286.49" y1="110.4" x2="286.49" y2="109.2" stroke="#333" stroke-width="0.6"/>
<line x1="317.37" y1="110.4" x2="317.37" y2="109.2" stroke="#333" stroke-width="0.6"/>
<text x="271.50" y="130.60" font-size="7.9" text-anchor="middle" fill="#222" font-weight="normal" >Wavelength (nm)</text>
<text x="188.30" y="65.50" font-size="8.6" text-anchor="middle" fill="#222" font-weight="normal" transform="rotate(-90 188.30 65.50)">PL Intensity (Counts)</text>
<line x1="224.67" y1="15.69" x2="235.98" y2="15.69" stroke="#3c7fd0" stroke-width="1.2"/>
<text x="238.33" y="17.99" font-size="6.5" text-anchor="start" fill="#111" font-weight="normal" >MoS<tspan font-size="4" dy="1.5">2</tspan><tspan dy="-1.5">-meta.</tspan></text>
<line x1="238.03" y1="28.03" x2="249.34" y2="28.03" stroke="#d93030" stroke-width="1.2"/>
<text x="253.75" y="30.33" font-size="6.5" text-anchor="start" fill="#111" font-weight="normal" >MoS<tspan font-size="4" dy="1.5">2</tspan></text>
<line x1="238.03" y1="38.92" x2="249.34" y2="38.92" stroke="#2e8b3e" stroke-width="1.2"/>
<text x="253.75" y="41.22" font-size="6.5" text-anchor="start" fill="#111" font-weight="normal" >meta.</text>
<line x1="238.03" y1="49.20" x2="249.34" y2="49.20" stroke="#3a3a3a" stroke-width="1.2"/>
<text x="253.75" y="51.50" font-size="6.5" text-anchor="start" fill="#111" font-weight="normal" >subs.</text>
<line x1="223.64" y1="83.12" x2="223.64" y2="66.68" stroke="#8a3a3a" stroke-width="0.7"/>
<polygon points="223.64,65.18 222.64,67.68 224.64,67.68" fill="#8a3a3a"/>
<text x="212.34" y="89.70" font-size="6.4" text-anchor="start" fill="#3a2a2a" font-weight="normal" >A exciton</text>
<line x1="276.07" y1="77.37" x2="263.32" y2="77.37" stroke="#8a3a3a" stroke-width="0.7"/>
<polygon points="261.82,77.37 264.32,76.37 264.32,78.37" fill="#8a3a3a"/>
<text x="276.89" y="79.42" font-size="6.5" text-anchor="start" fill="#2a2a2a" font-weight="normal" >bound exciton</text>
<text x="301.77" y="95.46" font-size="7.2" text-anchor="start" fill="#111" font-weight="normal" >T = 87 K</text>
<path d="M195.61,244.43 L197.09,231.03 L198.79,248.21 L200.50,246.35 L201.47,235.91 L203.00,224.68 L204.44,250.23 L206.03,243.00 L207.82,236.61 L209.58,229.99 L210.62,254.43 L211.97,239.01 L213.41,235.58 L215.14,240.96 L216.12,253.87 L217.69,229.76 L219.12,248.46 L220.02,244.24 L220.99,258.15 L221.85,247.81 L223.60,248.90 L224.49,255.34 L225.74,223.75 L227.00,243.92 L230.36,243.48 L234.84,243.92 L238.21,245.27 L241.57,247.51 L244.93,249.30 L247.17,248.41 L248.74,243.48 L251.66,230.47 L255.02,222.85 L257.26,221.05 L259.06,220.61 L260.63,222.85 L262.87,233.39 L265.11,242.35 L267.35,243.92 L269.60,244.60 L271.84,240.78 L273.41,238.99 L275.20,240.11 L277.44,245.72 L279.69,249.75 L281.93,251.32 L284.17,250.87 L285.96,247.96 L287.76,252.89 L288.96,217.61 L289.81,218.54 L291.50,220.79 L292.99,253.56 L293.84,233.13 L294.81,245.97 L296.24,241.18 L297.64,241.48 L298.90,240.36 L300.20,237.08 L301.62,250.28 L303.22,218.61 L304.84,255.81 L305.69,230.12 L306.83,235.64 L308.26,231.76 L309.78,215.43 L311.29,255.81 L312.81,218.12 L313.80,249.20 L314.88,238.19 L315.77,234.33 L317.51,244.27 L318.70,248.77 L319.76,228.08 L321.20,244.28 L322.62,239.14 L323.98,213.21 L325.62,244.09 L326.85,249.95 L327.89,238.16 L328.75,219.22 L329.58,247.43 L330.55,237.48 L332.27,246.00" fill="none" stroke="#e8353a" stroke-width="1.3" stroke-linejoin="round"/>
<path d="M195.61,218.81 L196.96,245.57 L198.32,225.87 L199.22,239.65 L200.07,255.62 L201.05,223.95 L201.92,224.50 L203.20,250.82 L204.70,229.95 L206.58,245.19 L208.15,257.49 L209.39,239.11 L211.23,242.08 L212.54,240.79 L213.42,234.97 L214.59,236.64 L215.52,221.66 L216.52,250.57 L217.53,237.64 L218.79,239.66 L220.65,243.29 L221.88,236.18 L222.79,246.72 L223.95,252.64 L225.39,237.56 L227.00,238.99 L229.24,238.09 L232.60,237.20 L235.96,237.20 L239.33,239.44 L242.69,241.68 L245.61,243.48 L247.85,245.27 L250.09,250.20 L252.78,255.81 L255.47,259.62 L258.16,261.41 L260.18,259.62 L262.20,252.89 L263.99,238.99 L265.56,225.54 L267.35,208.72 L268.92,200.87 L270.72,192.35 L272.06,187.42 L273.41,189.22 L274.75,203.12 L276.32,221.05 L277.89,234.51 L279.69,246.84 L281.48,251.32 L283.27,252.89 L285.07,254.24 L286.41,258.72 L287.76,252.89 L289.10,236.01 L290.71,253.81 L292.53,225.58 L293.60,238.91 L294.42,244.46 L295.40,245.88 L296.87,241.35 L297.91,242.94 L299.03,248.65 L300.85,238.54 L302.62,242.15 L303.50,247.28 L304.31,238.49 L305.63,239.31 L307.20,223.19 L308.91,222.86 L310.12,228.03 L311.95,247.02 L313.76,245.34 L315.40,223.20 L317.07,249.99 L318.24,238.55 L319.41,249.69 L320.41,228.31 L321.96,221.17 L323.34,249.70 L324.79,256.44 L325.63,232.16 L326.58,244.41 L327.50,228.56 L329.22,245.54 L331.07,246.92 L332.67,236.33" fill="none" stroke="#1a6fc4" stroke-width="1.3" stroke-linejoin="round"/>
<rect x="259.06" y="177.33" width="13.00" height="99.78" fill="none" stroke="#888" stroke-width="0.7" stroke-dasharray="2,1.5"/>
<rect x="195.6" y="171.3" width="137.9" height="109.19999999999999" fill="none" stroke="#333" stroke-width="0.8"/>
<line x1="195.6" y1="280.50" x2="197.6" y2="280.50" stroke="#333" stroke-width="0.7"/>
<text x="193.60" y="282.80" font-size="6.3" text-anchor="end" fill="#222" font-weight="normal" >0.0</text>
<line x1="195.6" y1="262.30" x2="197.6" y2="262.30" stroke="#333" stroke-width="0.7"/>
<text x="193.60" y="264.60" font-size="6.3" text-anchor="end" fill="#222" font-weight="normal" >0.5</text>
<line x1="195.6" y1="244.10" x2="197.6" y2="244.10" stroke="#333" stroke-width="0.7"/>
<text x="193.60" y="246.40" font-size="6.3" text-anchor="end" fill="#222" font-weight="normal" >1.0</text>
<line x1="195.6" y1="225.90" x2="197.6" y2="225.90" stroke="#333" stroke-width="0.7"/>
<text x="193.60" y="228.20" font-size="6.3" text-anchor="end" fill="#222" font-weight="normal" >1.5</text>
<line x1="195.6" y1="207.70" x2="197.6" y2="207.70" stroke="#333" stroke-width="0.7"/>
<text x="193.60" y="210.00" font-size="6.3" text-anchor="end" fill="#222" font-weight="normal" >2.0</text>
<line x1="195.6" y1="189.50" x2="197.6" y2="189.50" stroke="#333" stroke-width="0.7"/>
<text x="193.60" y="191.80" font-size="6.3" text-anchor="end" fill="#222" font-weight="normal" >2.5</text>
<line x1="195.6" y1="171.30" x2="197.6" y2="171.30" stroke="#333" stroke-width="0.7"/>
<text x="193.60" y="173.60" font-size="6.3" text-anchor="end" fill="#222" font-weight="normal" >3.0</text>
<line x1="195.60" y1="280.5" x2="195.60" y2="278.5" stroke="#333" stroke-width="0.7"/>
<text x="195.60" y="286.90" font-size="6.4" text-anchor="middle" fill="#222" font-weight="normal" >700</text>
<line x1="230.07" y1="280.5" x2="230.07" y2="278.5" stroke="#333" stroke-width="0.7"/>
<text x="230.07" y="286.90" font-size="6.4" text-anchor="middle" fill="#222" font-weight="normal" >750</text>
<line x1="264.55" y1="280.5" x2="264.55" y2="278.5" stroke="#333" stroke-width="0.7"/>
<text x="264.55" y="286.90" font-size="6.4" text-anchor="middle" fill="#222" font-weight="normal" >800</text>
<line x1="299.02" y1="280.5" x2="299.02" y2="278.5" stroke="#333" stroke-width="0.7"/>
<text x="299.02" y="286.90" font-size="6.4" text-anchor="middle" fill="#222" font-weight="normal" >850</text>
<line x1="333.50" y1="280.5" x2="333.50" y2="278.5" stroke="#333" stroke-width="0.7"/>
<text x="333.50" y="286.90" font-size="6.4" text-anchor="middle" fill="#222" font-weight="normal" >900</text>
<text x="267.30" y="295.60" font-size="7.56" text-anchor="middle" fill="#222" font-weight="normal" >Wavelength (nm)</text>
<text x="180.50" y="221.20" font-size="8.6" text-anchor="middle" fill="#222" font-weight="normal" transform="rotate(-90 180.50 221.20)">PL Enhancement</text>
<line x1="295" y1="181.9" x2="309" y2="181.9" stroke="#f04858" stroke-width="1.6"/>
<text x="311.30" y="183.70" font-size="8.5" text-anchor="start" fill="#111" font-weight="bold" >RCP</text>
<line x1="295.5" y1="189.4" x2="309" y2="189.4" stroke="#1a78d0" stroke-width="1.6"/>
<text x="311.30" y="192.30" font-size="8.5" text-anchor="start" fill="#111" font-weight="bold" >LCP</text>
<line x1="230.07" y1="171.3" x2="230.07" y2="173.10000000000002" stroke="#333" stroke-width="0.7"/>
<line x1="264.55" y1="171.3" x2="264.55" y2="173.10000000000002" stroke="#333" stroke-width="0.7"/>
<line x1="299.02" y1="171.3" x2="299.02" y2="173.10000000000002" stroke="#333" stroke-width="0.7"/>
<line x1="333.5" y1="262.30" x2="331.7" y2="262.30" stroke="#333" stroke-width="0.7"/>
<line x1="333.5" y1="244.10" x2="331.7" y2="244.10" stroke="#333" stroke-width="0.7"/>
<line x1="333.5" y1="225.90" x2="331.7" y2="225.90" stroke="#333" stroke-width="0.7"/>
<line x1="333.5" y1="207.70" x2="331.7" y2="207.70" stroke="#333" stroke-width="0.7"/>
<line x1="333.5" y1="189.50" x2="331.7" y2="189.50" stroke="#333" stroke-width="0.7"/>
<text x="176.00" y="299.00" font-size="6" text-anchor="start" fill="#555" font-weight="normal" >.</text>
<path d="M557.00,215.65 C558.89,215.30 564.56,214.84 568.34,213.57 C572.12,212.30 575.90,212.07 579.68,208.03 C583.46,203.98 587.24,196.48 591.02,189.31 C594.80,182.15 599.52,169.68 602.36,165.06 C605.20,160.44 606.14,161.25 608.03,161.59 C609.92,161.94 610.87,162.87 613.70,167.14 C616.54,171.41 621.26,181.81 625.04,187.24 C628.82,192.66 632.60,197.05 636.38,199.71 C640.16,202.37 643.94,202.60 647.72,203.18 C651.50,203.75 655.28,203.41 659.06,203.18 C662.84,202.94 668.51,202.02 670.40,201.79" fill="none" stroke="#1b2fd8" stroke-width="0.9"/>
<circle cx="557.00" cy="215.65" r="1.9" fill="#1b2fd8"/>
<circle cx="568.34" cy="213.57" r="1.9" fill="#1b2fd8"/>
<circle cx="579.68" cy="208.03" r="1.9" fill="#1b2fd8"/>
<circle cx="591.02" cy="189.31" r="1.9" fill="#1b2fd8"/>
<circle cx="602.36" cy="165.06" r="1.9" fill="#1b2fd8"/>
<circle cx="613.70" cy="167.14" r="1.9" fill="#1b2fd8"/>
<circle cx="625.04" cy="187.24" r="1.9" fill="#1b2fd8"/>
<circle cx="636.38" cy="199.71" r="1.9" fill="#1b2fd8"/>
<circle cx="647.72" cy="203.18" r="1.9" fill="#1b2fd8"/>
<circle cx="670.40" cy="201.79" r="1.9" fill="#1b2fd8"/>
<path d="M557.00,215.65 C558.89,215.76 564.56,216.11 568.34,216.34 C572.12,216.57 575.90,216.80 579.68,217.03 C583.46,217.27 587.24,217.61 591.02,217.73 C594.80,217.84 598.58,217.79 602.36,217.73 C606.14,217.67 609.92,217.61 613.70,217.38 C617.48,217.15 621.26,216.75 625.04,216.34 C628.82,215.94 632.60,215.53 636.38,214.96 C640.16,214.38 643.94,213.45 647.72,212.88 C651.50,212.30 655.28,212.07 659.06,211.49 C662.84,210.91 668.51,209.76 670.40,209.41" fill="none" stroke="#e81c1c" stroke-width="0.9" stroke-dasharray="2.5,1.2,0.8,1.2"/>
<circle cx="557.00" cy="215.65" r="1.8" fill="#e81c1c"/>
<circle cx="568.34" cy="216.34" r="1.8" fill="#e81c1c"/>
<circle cx="579.68" cy="217.03" r="1.8" fill="#e81c1c"/>
<circle cx="591.02" cy="217.73" r="1.8" fill="#e81c1c"/>
<circle cx="602.36" cy="217.73" r="1.8" fill="#e81c1c"/>
<circle cx="613.70" cy="217.38" r="1.8" fill="#e81c1c"/>
<circle cx="625.04" cy="216.34" r="1.8" fill="#e81c1c"/>
<circle cx="636.38" cy="214.96" r="1.8" fill="#e81c1c"/>
<circle cx="647.72" cy="212.88" r="1.8" fill="#e81c1c"/>
<circle cx="670.40" cy="209.41" r="1.8" fill="#e81c1c"/>
<rect x="557.0" y="151.2" width="113.39999999999998" height="69.30000000000001" fill="none" stroke="#a8a8a8" stroke-width="1.0"/>
<line x1="557.0" y1="220.50" x2="558.5" y2="220.50" stroke="#555" stroke-width="0.6"/>
<text x="555.60" y="222.70" font-size="6" text-anchor="end" fill="#222" font-weight="bold" >0</text>
<line x1="557.0" y1="206.64" x2="558.5" y2="206.64" stroke="#555" stroke-width="0.6"/>
<text x="555.60" y="208.84" font-size="6" text-anchor="end" fill="#222" font-weight="bold" >0.2</text>
<line x1="557.0" y1="192.78" x2="558.5" y2="192.78" stroke="#555" stroke-width="0.6"/>
<text x="555.60" y="194.98" font-size="6" text-anchor="end" fill="#222" font-weight="bold" >0.4</text>
<line x1="557.0" y1="178.92" x2="558.5" y2="178.92" stroke="#555" stroke-width="0.6"/>
<text x="555.60" y="181.12" font-size="6" text-anchor="end" fill="#222" font-weight="bold" >0.6</text>
<line x1="557.0" y1="165.06" x2="558.5" y2="165.06" stroke="#555" stroke-width="0.6"/>
<text x="555.60" y="167.26" font-size="6" text-anchor="end" fill="#222" font-weight="bold" >0.8</text>
<line x1="557.0" y1="151.20" x2="558.5" y2="151.20" stroke="#555" stroke-width="0.6"/>
<text x="555.60" y="153.40" font-size="6" text-anchor="end" fill="#222" font-weight="bold" >1</text>
<line x1="557.00" y1="220.5" x2="557.00" y2="219.0" stroke="#555" stroke-width="0.6"/>
<text x="557.00" y="227.30" font-size="6" text-anchor="middle" fill="#222" font-weight="bold" >750</text>
<line x1="579.68" y1="220.5" x2="579.68" y2="219.0" stroke="#555" stroke-width="0.6"/>
<text x="579.68" y="227.30" font-size="6" text-anchor="middle" fill="#222" font-weight="bold" >770</text>
<line x1="602.36" y1="220.5" x2="602.36" y2="219.0" stroke="#555" stroke-width="0.6"/>
<text x="602.36" y="227.30" font-size="6" text-anchor="middle" fill="#222" font-weight="bold" >790</text>
<line x1="625.04" y1="220.5" x2="625.04" y2="219.0" stroke="#555" stroke-width="0.6"/>
<text x="625.04" y="227.30" font-size="6" text-anchor="middle" fill="#222" font-weight="bold" >810</text>
<line x1="647.72" y1="220.5" x2="647.72" y2="219.0" stroke="#555" stroke-width="0.6"/>
<text x="647.72" y="227.30" font-size="6" text-anchor="middle" fill="#222" font-weight="bold" >830</text>
<line x1="670.40" y1="220.5" x2="670.40" y2="219.0" stroke="#555" stroke-width="0.6"/>
<text x="670.40" y="227.30" font-size="6" text-anchor="middle" fill="#222" font-weight="bold" >850</text>
<text x="613.00" y="233.80" font-size="6.3" text-anchor="middle" fill="#222" font-weight="bold" >λ (nm)</text>
<text font-size="7.4" fill="#222" text-anchor="middle" textLength="63" lengthAdjust="spacingAndGlyphs" transform="translate(541.6 185.2) rotate(-90)">η<tspan font-size="5.2" dy="1.8">RCP</tspan><tspan dy="-1.8">, η</tspan><tspan font-size="5.2" dy="1.8">LCP</tspan><tspan dy="-1.8"> (×10</tspan><tspan font-size="5.2" dy="-2.6">-3</tspan><tspan dy="2.6"> %)</tspan></text>
<rect x="638.3" y="150.6" width="31.6" height="17.8" fill="#fff" stroke="#666" stroke-width="0.5"/>
<line x1="641.8" y1="156.6" x2="651.8" y2="156.6" stroke="#1b2fd8" stroke-width="0.9"/>
<circle cx="647.0999999999999" cy="156.6" r="1.5" fill="#1b2fd8"/>
<text x="652.90" y="158.80" font-size="6.1" text-anchor="start" fill="#222" font-weight="normal" >RCP</text>
<line x1="641.8" y1="164.2" x2="651.8" y2="164.2" stroke="#e81c1c" stroke-width="0.9" stroke-dasharray="2,1"/>
<circle cx="647.0999999999999" cy="164.2" r="1.5" fill="#e81c1c"/>
<text x="652.90" y="166.40" font-size="6.1" text-anchor="start" fill="#222" font-weight="normal" >LCP</text>
<path d="M555.40,307.26 C557.33,305.24 563.12,300.89 566.98,295.10 C570.84,289.31 574.70,279.58 578.56,272.51 C582.42,265.45 586.28,257.05 590.14,252.70 C594.00,248.36 597.86,247.32 601.72,246.45 C605.58,245.58 609.44,246.04 613.30,247.49 C617.16,248.94 621.02,251.55 624.88,255.14 C628.74,258.73 632.60,264.69 636.46,269.04 C640.32,273.38 644.18,278.19 648.04,281.20 C651.90,284.21 655.76,285.66 659.62,287.11 C663.48,288.56 669.27,289.42 671.20,289.89" fill="none" stroke="#1b2fd8" stroke-width="0.9"/>
<circle cx="555.40" cy="307.26" r="1.9" fill="#1b2fd8"/>
<circle cx="566.98" cy="295.10" r="1.9" fill="#1b2fd8"/>
<circle cx="578.56" cy="272.51" r="1.9" fill="#1b2fd8"/>
<circle cx="590.14" cy="252.70" r="1.9" fill="#1b2fd8"/>
<circle cx="601.72" cy="246.45" r="1.9" fill="#1b2fd8"/>
<circle cx="613.30" cy="247.49" r="1.9" fill="#1b2fd8"/>
<circle cx="624.88" cy="255.14" r="1.9" fill="#1b2fd8"/>
<circle cx="636.46" cy="269.04" r="1.9" fill="#1b2fd8"/>
<circle cx="648.04" cy="281.20" r="1.9" fill="#1b2fd8"/>
<circle cx="671.20" cy="289.89" r="1.9" fill="#1b2fd8"/>
<rect x="555.4" y="239.5" width="115.80000000000007" height="69.5" fill="none" stroke="#a8a8a8" stroke-width="1.0"/>
<line x1="555.4" y1="309.00" x2="556.9" y2="309.00" stroke="#555" stroke-width="0.6"/>
<text x="554.00" y="311.20" font-size="6" text-anchor="end" fill="#222" font-weight="bold" >0</text>
<line x1="555.4" y1="291.62" x2="556.9" y2="291.62" stroke="#555" stroke-width="0.6"/>
<text x="554.00" y="293.82" font-size="6" text-anchor="end" fill="#222" font-weight="bold" >0.5</text>
<line x1="555.4" y1="274.25" x2="556.9" y2="274.25" stroke="#555" stroke-width="0.6"/>
<text x="554.00" y="276.45" font-size="6" text-anchor="end" fill="#222" font-weight="bold" >1</text>
<line x1="555.4" y1="256.88" x2="556.9" y2="256.88" stroke="#555" stroke-width="0.6"/>
<text x="554.00" y="259.07" font-size="6" text-anchor="end" fill="#222" font-weight="bold" >1.5</text>
<line x1="555.4" y1="239.50" x2="556.9" y2="239.50" stroke="#555" stroke-width="0.6"/>
<text x="554.00" y="241.70" font-size="6" text-anchor="end" fill="#222" font-weight="bold" >2</text>
<line x1="555.40" y1="309.0" x2="555.40" y2="307.5" stroke="#555" stroke-width="0.6"/>
<text x="555.40" y="315.30" font-size="6" text-anchor="middle" fill="#222" font-weight="bold" >750</text>
<line x1="578.56" y1="309.0" x2="578.56" y2="307.5" stroke="#555" stroke-width="0.6"/>
<text x="578.56" y="315.30" font-size="6" text-anchor="middle" fill="#222" font-weight="bold" >770</text>
<line x1="601.72" y1="309.0" x2="601.72" y2="307.5" stroke="#555" stroke-width="0.6"/>
<text x="601.72" y="315.30" font-size="6" text-anchor="middle" fill="#222" font-weight="bold" >790</text>
<line x1="624.88" y1="309.0" x2="624.88" y2="307.5" stroke="#555" stroke-width="0.6"/>
<text x="624.88" y="315.30" font-size="6" text-anchor="middle" fill="#222" font-weight="bold" >810</text>
<line x1="648.04" y1="309.0" x2="648.04" y2="307.5" stroke="#555" stroke-width="0.6"/>
<text x="648.04" y="315.30" font-size="6" text-anchor="middle" fill="#222" font-weight="bold" >830</text>
<line x1="671.20" y1="309.0" x2="671.20" y2="307.5" stroke="#555" stroke-width="0.6"/>
<text x="671.20" y="315.30" font-size="6" text-anchor="middle" fill="#222" font-weight="bold" >850</text>
<text x="613.00" y="322.00" font-size="6.3" text-anchor="middle" fill="#222" font-weight="bold" >λ (nm)</text>
<text x="542.00" y="274.60" font-size="6.4" text-anchor="middle" fill="#222" font-weight="normal" transform="rotate(-90 542.00 274.60)">SHG-CD</text>
<defs><radialGradient id="gb1" cx="0.5" cy="0.5" r="0.5"><stop offset="0" stop-color="#5a9a30" stop-opacity="0.8"/><stop offset="1" stop-color="#5a9a30" stop-opacity="0"/></radialGradient><pattern id="pg1" width="8" height="7" patternUnits="userSpaceOnUse"><rect width="8" height="7" fill="#92d064"/><ellipse cx="5" cy="4.5" rx="3.5" ry="2.8" fill="url(#gb1)"/><circle cx="1" cy="1" r="0.6" fill="#d08a50"/><circle cx="3.2" cy="2.2" r="0.5" fill="#c88050"/><circle cx="6.5" cy="1.5" r="0.6" fill="#d89060"/><circle cx="2" cy="5.5" r="0.55" fill="#c87848"/><circle cx="7" cy="6" r="0.5" fill="#d08a50"/><ellipse cx="2.5" cy="3" rx="2" ry="1.5" fill="#c0e090" opacity="0.6"/></pattern></defs>
<path d="M108.00,436.88 C108.80,436.44 111.21,434.28 112.81,434.21 C114.42,434.14 116.02,436.56 117.62,436.48 C119.23,436.40 120.83,433.86 122.44,433.74 C124.04,433.63 125.65,435.84 127.25,435.78 C128.85,435.72 130.46,433.39 132.06,433.39 C133.67,433.39 135.27,435.83 136.88,435.79 C138.48,435.75 140.08,433.23 141.69,433.13 C143.29,433.03 145.59,433.66 146.50,435.20 C147.41,436.74 146.81,439.87 147.14,442.38 C147.47,444.88 148.16,447.62 148.49,450.25 C148.83,452.88 148.84,455.65 149.16,458.12 C149.47,460.60 151.20,463.54 150.40,465.08 C149.60,466.63 146.37,467.32 144.35,467.39 C142.33,467.46 140.32,465.34 138.30,465.48 C136.28,465.63 134.27,468.14 132.25,468.26 C130.23,468.38 128.22,466.18 126.20,466.23 C124.18,466.28 122.17,468.50 120.15,468.56 C118.13,468.62 116.12,466.58 114.10,466.59 C112.08,466.59 110.07,468.56 108.05,468.57 C106.03,468.58 102.73,468.14 102.00,466.67 C101.27,465.20 103.11,462.19 103.65,459.75 C104.20,457.31 104.73,454.58 105.28,452.00 C105.82,449.42 106.47,446.77 106.93,444.25 C107.38,441.73 107.82,438.11 108.00,436.88" fill="url(#pg1)" stroke="#f0d060" stroke-width="0.5"/>
<path d="M104.99,506.69 L105.42,506.74 L105.85,506.75 L106.28,506.71 L106.71,506.63 L107.14,506.51 L107.56,506.34 L107.99,506.14 L108.42,505.91 L108.85,505.63 L109.28,505.32 L109.71,504.98 L110.14,504.59 L110.56,504.18 L110.99,503.72 L111.42,503.23 L111.85,502.70 L112.28,502.14 L112.71,501.55 L113.14,500.92 L113.56,500.27 L113.99,499.58 L114.42,498.87 L114.85,498.14 L115.28,497.39 L115.71,496.62 L116.14,495.84 L116.57,495.06 L116.99,494.28 L117.42,493.51 L117.85,492.75 L118.28,492.02 L118.71,491.33 L119.14,490.68 L119.57,490.08 L119.99,489.55 L120.42,489.09 L120.85,488.71 L121.28,488.43 L121.71,488.25 L122.14,488.17 L122.57,488.20 L122.99,488.33 L123.42,488.57 L123.85,488.91 L124.28,489.35 L124.71,489.87 L125.14,490.47 L125.57,491.14 L126.00,491.87 L126.42,492.64 L126.85,493.45 L127.28,494.29 L127.71,495.15 L128.14,496.03 L128.57,496.90 L129.00,497.78 L129.42,498.64 L129.85,499.50 L130.28,500.34 L130.71,501.15 L131.14,501.94 L131.57,502.71 L132.00,503.45 L132.42,504.16 L132.85,504.83 L133.28,505.48 L133.71,506.09 L134.14,506.67 L134.57,507.22 L135.00,507.73 L135.42,508.21 L135.85,508.67 L136.28,509.09 L136.71,509.48 L137.14,509.85 L137.57,510.19 L138.00,510.50 L138.43,510.79 L138.85,511.06 L139.28,511.30 L139.71,511.53 L140.14,511.74 L140.57,511.93 L141.00,512.11 L141.43,512.27 L141.85,512.42 L142.28,512.55 L142.71,512.68 L143.14,512.79 L143.57,512.90 L144.00,513.00 L144.43,513.09 L144.85,513.17 L145.28,513.25 L145.71,513.32 L146.14,513.39 L146.57,513.45 L147.00,513.51 L147.43,513.56 L147.86,513.62 L148.28,513.66 L148.71,513.71 L149.14,513.75 L149.57,513.79 L150.00,513.83 L150.43,513.87 L150.86,513.90 L151.28,513.94 L151.71,513.97 L152.14,514.00 L152.57,514.03 L153.00,514.06 L153.43,514.09 L153.86,514.11 L154.28,514.14 L154.71,514.16 L155.14,514.19 L155.57,514.21 L156.00,514.23 L156.43,514.25 L156.86,514.27 L157.28,514.29 L157.71,514.31 L158.14,514.33 L158.57,514.35 L159.00,514.36 L159.43,514.38 L159.86,514.40 L160.29,514.41 L160.71,514.43 L161.14,514.44 L161.57,514.46 L162.00,514.47 L162.43,514.48 L162.86,514.50 L163.29,514.51 L163.71,514.52 L164.14,514.54 L164.57,514.55 L165.00,514.56" fill="none" stroke="#ffb8b8" stroke-width="2.0" stroke-linejoin="round" stroke-linecap="round"/>
<path d="M104.99,504.73 L105.42,504.79 L105.85,504.80 L106.28,504.76 L106.71,504.67 L107.14,504.55 L107.56,504.39 L107.99,504.19 L108.42,503.95 L108.85,503.68 L109.28,503.37 L109.71,503.02 L110.14,502.64 L110.56,502.22 L110.99,501.76 L111.42,501.27 L111.85,500.75 L112.28,500.19 L112.71,499.59 L113.14,498.97 L113.56,498.31 L113.99,497.63 L114.42,496.92 L114.85,496.18 L115.28,495.43 L115.71,494.66 L116.14,493.89 L116.57,493.10 L116.99,492.32 L117.42,491.55 L117.85,490.80 L118.28,490.07 L118.71,489.37 L119.14,488.72 L119.57,488.12 L119.99,487.59 L120.42,487.13 L120.85,486.76 L121.28,486.48 L121.71,486.29 L122.14,486.22 L122.57,486.24 L122.99,486.38 L123.42,486.62 L123.85,486.96 L124.28,487.39 L124.71,487.92 L125.14,488.52 L125.57,489.19 L126.00,489.91 L126.42,490.69 L126.85,491.50 L127.28,492.34 L127.71,493.20 L128.14,494.07 L128.57,494.95 L129.00,495.82 L129.42,496.69 L129.85,497.54 L130.28,498.38 L130.71,499.20 L131.14,499.99 L131.57,500.75 L132.00,501.49 L132.42,502.20 L132.85,502.88 L133.28,503.52 L133.71,504.13 L134.14,504.71 L134.57,505.26 L135.00,505.78 L135.42,506.26 L135.85,506.71 L136.28,507.13 L136.71,507.53 L137.14,507.89 L137.57,508.23 L138.00,508.54 L138.43,508.83 L138.85,509.10 L139.28,509.35 L139.71,509.57 L140.14,509.78 L140.57,509.97 L141.00,510.15 L141.43,510.31 L141.85,510.46 L142.28,510.60 L142.71,510.72 L143.14,510.84 L143.57,510.94 L144.00,511.04 L144.43,511.13 L144.85,511.22 L145.28,511.29 L145.71,511.36 L146.14,511.43 L146.57,511.49 L147.00,511.55 L147.43,511.61 L147.86,511.66 L148.28,511.71 L148.71,511.75 L149.14,511.80 L149.57,511.84 L150.00,511.88 L150.43,511.91 L150.86,511.95 L151.28,511.98 L151.71,512.01 L152.14,512.05 L152.57,512.08 L153.00,512.10 L153.43,512.13 L153.86,512.16 L154.28,512.18 L154.71,512.21 L155.14,512.23 L155.57,512.25 L156.00,512.27 L156.43,512.30 L156.86,512.32 L157.28,512.34 L157.71,512.35 L158.14,512.37 L158.57,512.39 L159.00,512.41 L159.43,512.42 L159.86,512.44 L160.29,512.46 L160.71,512.47 L161.14,512.49 L161.57,512.50 L162.00,512.52 L162.43,512.53 L162.86,512.54 L163.29,512.55 L163.71,512.57 L164.14,512.58 L164.57,512.59 L165.00,512.60" fill="none" stroke="#f07070" stroke-width="1.0" stroke-linejoin="round" stroke-linecap="round"/>
<path d="M104.99,504.15 L105.42,504.21 L105.85,504.21 L106.28,504.16 L106.71,504.06 L107.14,503.92 L107.56,503.73 L107.99,503.50 L108.42,503.22 L108.85,502.91 L109.28,502.55 L109.71,502.14 L110.14,501.70 L110.56,501.21 L110.99,500.69 L111.42,500.12 L111.85,499.51 L112.28,498.85 L112.71,498.16 L113.14,497.44 L113.56,496.67 L113.99,495.87 L114.42,495.05 L114.85,494.19 L115.28,493.32 L115.71,492.42 L116.14,491.52 L116.57,490.61 L116.99,489.70 L117.42,488.80 L117.85,487.92 L118.28,487.07 L118.71,486.26 L119.14,485.50 L119.57,484.81 L119.99,484.19 L120.42,483.65 L120.85,483.22 L121.28,482.89 L121.71,482.68 L122.14,482.60 L122.57,482.63 L122.99,482.79 L123.42,483.07 L123.85,483.48 L124.28,483.99 L124.71,484.60 L125.14,485.31 L125.57,486.09 L126.00,486.94 L126.42,487.85 L126.85,488.80 L127.28,489.79 L127.71,490.80 L128.14,491.82 L128.57,492.84 L129.00,493.87 L129.42,494.88 L129.85,495.89 L130.28,496.87 L130.71,497.82 L131.14,498.75 L131.57,499.65 L132.00,500.51 L132.42,501.34 L132.85,502.14 L133.28,502.89 L133.71,503.61 L134.14,504.29 L134.57,504.93 L135.00,505.53 L135.42,506.10 L135.85,506.63 L136.28,507.12 L136.71,507.58 L137.14,508.01 L137.57,508.41 L138.00,508.78 L138.43,509.11 L138.85,509.43 L139.28,509.72 L139.71,509.98 L140.14,510.23 L140.57,510.45 L141.00,510.66 L141.43,510.85 L141.85,511.02 L142.28,511.18 L142.71,511.33 L143.14,511.46 L143.57,511.59 L144.00,511.70 L144.43,511.81 L144.85,511.91 L145.28,512.00 L145.71,512.08 L146.14,512.16 L146.57,512.24 L147.00,512.30 L147.43,512.37 L147.86,512.43 L148.28,512.49 L148.71,512.54 L149.14,512.59 L149.57,512.64 L150.00,512.69 L150.43,512.73 L150.86,512.77 L151.28,512.81 L151.71,512.85 L152.14,512.88 L152.57,512.92 L153.00,512.95 L153.43,512.98 L153.86,513.02 L154.28,513.04 L154.71,513.07 L155.14,513.10 L155.57,513.13 L156.00,513.15 L156.43,513.18 L156.86,513.20 L157.28,513.23 L157.71,513.25 L158.14,513.27 L158.57,513.29 L159.00,513.31 L159.43,513.33 L159.86,513.35 L160.29,513.37 L160.71,513.39 L161.14,513.40 L161.57,513.42 L162.00,513.44 L162.43,513.45 L162.86,513.47 L163.29,513.48 L163.71,513.50 L164.14,513.51 L164.57,513.53 L165.00,513.54" fill="none" stroke="#e80000" stroke-width="2.0" stroke-linejoin="round" stroke-linecap="round"/>
<path d="M50.70,514.78 L51.13,514.77 L51.56,514.76 L51.99,514.75 L52.41,514.75 L52.84,514.74 L53.27,514.73 L53.70,514.72 L54.13,514.71 L54.56,514.70 L54.99,514.69 L55.41,514.68 L55.84,514.67 L56.27,514.66 L56.70,514.65 L57.13,514.64 L57.56,514.63 L57.99,514.62 L58.42,514.61 L58.84,514.60 L59.27,514.58 L59.70,514.57 L60.13,514.56 L60.56,514.54 L60.99,514.53 L61.42,514.51 L61.84,514.49 L62.27,514.48 L62.70,514.46 L63.13,514.44 L63.56,514.42 L63.99,514.40 L64.42,514.38 L64.84,514.36 L65.27,514.34 L65.70,514.32 L66.13,514.29 L66.56,514.27 L66.99,514.24 L67.42,514.22 L67.84,514.19 L68.27,514.16 L68.70,514.13 L69.13,514.09 L69.56,514.06 L69.99,514.02 L70.42,513.98 L70.85,513.94 L71.27,513.90 L71.70,513.85 L72.13,513.80 L72.56,513.75 L72.99,513.70 L73.42,513.63 L73.85,513.57 L74.27,513.49 L74.70,513.41 L75.13,513.32 L75.56,513.22 L75.99,513.10 L76.42,512.97 L76.85,512.80 L77.27,512.61 L77.70,512.39 L78.13,512.12 L78.56,511.79 L78.99,511.40 L79.42,510.92 L79.85,510.35 L80.28,509.67 L80.70,508.85 L81.13,507.88 L81.56,506.73 L81.99,505.39 L82.42,503.83 L82.85,502.04 L83.28,500.00 L83.70,497.69 L84.13,495.11 L84.56,492.27 L84.99,489.16 L85.42,485.80 L85.85,482.23 L86.28,478.47 L86.70,474.57 L87.13,470.60 L87.56,466.61 L87.99,462.69 L88.42,458.93 L88.85,455.41 L89.28,452.24 L89.70,449.51 L90.13,447.33 L90.56,445.78 L90.99,444.91 L91.42,444.75 L91.85,445.33 L92.28,446.65 L92.71,448.66 L93.13,451.23 L93.56,454.26 L93.99,457.63 L94.42,461.22 L94.85,464.94 L95.28,468.69 L95.71,472.40 L96.13,476.00 L96.56,479.45 L96.99,482.71 L97.42,485.75 L97.85,488.55 L98.28,491.10 L98.71,493.44 L99.13,495.56 L99.56,497.44 L99.99,499.09 L100.42,500.53 L100.85,501.76 L101.28,502.81 L101.71,503.70 L102.14,504.44 L102.56,505.05 L102.99,505.54 L103.42,505.93 L103.85,506.24 L104.28,506.46 L104.71,506.62 L105.14,506.71" fill="none" stroke="#dcf7a8" stroke-width="2.0" stroke-linejoin="round" stroke-linecap="round"/>
<path d="M50.70,513.78 L51.13,513.77 L51.56,513.76 L51.99,513.75 L52.41,513.74 L52.84,513.73 L53.27,513.72 L53.70,513.71 L54.13,513.70 L54.56,513.69 L54.99,513.68 L55.41,513.67 L55.84,513.65 L56.27,513.64 L56.70,513.63 L57.13,513.61 L57.56,513.60 L57.99,513.59 L58.42,513.57 L58.84,513.55 L59.27,513.54 L59.70,513.52 L60.13,513.50 L60.56,513.49 L60.99,513.47 L61.42,513.45 L61.84,513.43 L62.27,513.41 L62.70,513.38 L63.13,513.36 L63.56,513.34 L63.99,513.31 L64.42,513.29 L64.84,513.26 L65.27,513.23 L65.70,513.21 L66.13,513.17 L66.56,513.14 L66.99,513.11 L67.42,513.07 L67.84,513.04 L68.27,513.00 L68.70,512.96 L69.13,512.92 L69.56,512.87 L69.99,512.83 L70.42,512.78 L70.85,512.72 L71.27,512.67 L71.70,512.61 L72.13,512.55 L72.56,512.48 L72.99,512.40 L73.42,512.32 L73.85,512.24 L74.27,512.14 L74.70,512.03 L75.13,511.91 L75.56,511.77 L75.99,511.61 L76.42,511.42 L76.85,511.19 L77.27,510.93 L77.70,510.61 L78.13,510.23 L78.56,509.77 L78.99,509.21 L79.42,508.54 L79.85,507.74 L80.28,506.77 L80.70,505.63 L81.13,504.27 L81.56,502.68 L81.99,500.83 L82.42,498.69 L82.85,496.24 L83.28,493.47 L83.70,490.36 L84.13,486.92 L84.56,483.14 L84.99,479.05 L85.42,474.67 L85.85,470.04 L86.28,465.22 L86.70,460.28 L87.13,455.29 L87.56,450.35 L87.99,445.57 L88.42,441.06 L88.85,436.94 L89.28,433.34 L89.70,430.38 L90.13,428.16 L90.56,426.78 L90.99,426.30 L91.42,426.70 L91.85,428.06 L92.28,430.30 L92.71,433.30 L93.13,436.92 L93.56,441.01 L93.99,445.43 L94.42,450.05 L94.85,454.74 L95.28,459.40 L95.71,463.96 L96.13,468.35 L96.56,472.51 L96.99,476.41 L97.42,480.02 L97.85,483.32 L98.28,486.33 L98.71,489.09 L99.13,491.55 L99.56,493.72 L99.99,495.61 L100.42,497.24 L100.85,498.64 L101.28,499.83 L101.71,500.83 L102.14,501.66 L102.56,502.34 L102.99,502.88 L103.42,503.32 L103.85,503.65 L104.28,503.90 L104.71,504.07 L105.14,504.17" fill="none" stroke="#22e022" stroke-width="2.0" stroke-linejoin="round" stroke-linecap="round"/>
<rect x="50.7" y="416.9" width="114.3" height="97.39999999999998" fill="none" stroke="#333" stroke-width="0.7"/>
<line x1="50.7" y1="514.30" x2="52.5" y2="514.30" stroke="#333" stroke-width="0.6"/>
<text x="48.70" y="516.60" font-size="6.4" text-anchor="end" fill="#222" font-weight="normal" >0.0</text>
<line x1="50.7" y1="505.50" x2="51.7" y2="505.50" stroke="#333" stroke-width="0.5"/>
<line x1="50.7" y1="496.70" x2="52.5" y2="496.70" stroke="#333" stroke-width="0.6"/>
<text x="48.70" y="499.00" font-size="6.4" text-anchor="end" fill="#222" font-weight="normal" >0.2</text>
<line x1="50.7" y1="487.90" x2="51.7" y2="487.90" stroke="#333" stroke-width="0.5"/>
<line x1="50.7" y1="479.10" x2="52.5" y2="479.10" stroke="#333" stroke-width="0.6"/>
<text x="48.70" y="481.40" font-size="6.4" text-anchor="end" fill="#222" font-weight="normal" >0.4</text>
<line x1="50.7" y1="470.30" x2="51.7" y2="470.30" stroke="#333" stroke-width="0.5"/>
<line x1="50.7" y1="461.50" x2="52.5" y2="461.50" stroke="#333" stroke-width="0.6"/>
<text x="48.70" y="463.80" font-size="6.4" text-anchor="end" fill="#222" font-weight="normal" >0.6</text>
<line x1="50.7" y1="452.70" x2="51.7" y2="452.70" stroke="#333" stroke-width="0.5"/>
<line x1="50.7" y1="443.90" x2="52.5" y2="443.90" stroke="#333" stroke-width="0.6"/>
<text x="48.70" y="446.20" font-size="6.4" text-anchor="end" fill="#222" font-weight="normal" >0.8</text>
<line x1="50.7" y1="435.10" x2="51.7" y2="435.10" stroke="#333" stroke-width="0.5"/>
<line x1="50.7" y1="426.30" x2="52.5" y2="426.30" stroke="#333" stroke-width="0.6"/>
<text x="48.70" y="428.60" font-size="6.4" text-anchor="end" fill="#222" font-weight="normal" >1.0</text>
<line x1="50.70" y1="514.3" x2="50.70" y2="512.5" stroke="#333" stroke-width="0.6"/>
<text x="50.70" y="522.80" font-size="6.6" text-anchor="middle" fill="#222" font-weight="normal" >400</text>
<line x1="64.99" y1="514.3" x2="64.99" y2="512.5" stroke="#333" stroke-width="0.6"/>
<text x="64.99" y="522.80" font-size="6.6" text-anchor="middle" fill="#222" font-weight="normal" >450</text>
<line x1="79.28" y1="514.3" x2="79.28" y2="512.5" stroke="#333" stroke-width="0.6"/>
<text x="79.28" y="522.80" font-size="6.6" text-anchor="middle" fill="#222" font-weight="normal" >500</text>
<line x1="93.56" y1="514.3" x2="93.56" y2="512.5" stroke="#333" stroke-width="0.6"/>
<text x="93.56" y="522.80" font-size="6.6" text-anchor="middle" fill="#222" font-weight="normal" >550</text>
<line x1="107.85" y1="514.3" x2="107.85" y2="512.5" stroke="#333" stroke-width="0.6"/>
<text x="107.85" y="522.80" font-size="6.6" text-anchor="middle" fill="#222" font-weight="normal" >600</text>
<line x1="122.14" y1="514.3" x2="122.14" y2="512.5" stroke="#333" stroke-width="0.6"/>
<text x="122.14" y="522.80" font-size="6.6" text-anchor="middle" fill="#222" font-weight="normal" >650</text>
<line x1="136.43" y1="514.3" x2="136.43" y2="512.5" stroke="#333" stroke-width="0.6"/>
<text x="136.43" y="522.80" font-size="6.6" text-anchor="middle" fill="#222" font-weight="normal" >700</text>
<line x1="150.71" y1="514.3" x2="150.71" y2="512.5" stroke="#333" stroke-width="0.6"/>
<text x="150.71" y="522.80" font-size="6.6" text-anchor="middle" fill="#222" font-weight="normal" >750</text>
<line x1="165.00" y1="514.3" x2="165.00" y2="512.5" stroke="#333" stroke-width="0.6"/>
<text x="165.00" y="522.80" font-size="6.6" text-anchor="middle" fill="#222" font-weight="normal" >800</text>
<text x="108.05" y="529.80" font-size="6.13" text-anchor="middle" fill="#222" font-weight="normal" >Wavelength (nm)</text>
<text x="36.40" y="467.20" font-size="7.8" text-anchor="middle" fill="#222" font-weight="normal" transform="rotate(-90 36.40 467.20)">Norm. PL Intensity (arb. units)</text>
<line x1="99.4" y1="422.4" x2="111.4" y2="422.4" stroke="#22e022" stroke-width="2"/>
<line x1="111.4" y1="422.4" x2="122.9" y2="422.4" stroke="#e80000" stroke-width="2"/>
<text x="123.90" y="424.30" font-size="5.1" text-anchor="start" fill="#222" font-weight="normal" >L-CPL Excitation</text>
<line x1="99.4" y1="428.7" x2="111.4" y2="428.7" stroke="#dcf7a8" stroke-width="2"/>
<line x1="111.4" y1="428.7" x2="122.9" y2="428.7" stroke="#ff9090" stroke-width="2"/>
<text x="123.90" y="430.60" font-size="5.1" text-anchor="start" fill="#222" font-weight="normal" >R-CPL Excitation</text>
<defs><radialGradient id="gb2" cx="0.5" cy="0.5" r="0.5"><stop offset="0" stop-color="#2a7a78" stop-opacity="0.8"/><stop offset="1" stop-color="#2a7a78" stop-opacity="0"/></radialGradient><pattern id="pg2" width="8" height="7" patternUnits="userSpaceOnUse"><rect width="8" height="7" fill="#58b090"/><ellipse cx="5" cy="4.5" rx="3.5" ry="2.8" fill="url(#gb2)"/><circle cx="1" cy="1" r="0.6" fill="#3a90c0"/><circle cx="3.2" cy="2.2" r="0.5" fill="#70c070"/><circle cx="6.5" cy="1.5" r="0.6" fill="#3a88b8"/><circle cx="2" cy="5.5" r="0.55" fill="#80c860"/><circle cx="7" cy="6" r="0.5" fill="#3a90c0"/><ellipse cx="2.5" cy="3" rx="2" ry="1.5" fill="#a0e0c0" opacity="0.6"/></pattern></defs>
<path d="M275.50,437.02 C276.31,436.58 278.75,434.49 280.38,434.37 C282.00,434.26 283.62,436.36 285.25,436.32 C286.88,436.29 288.50,434.27 290.12,434.17 C291.75,434.07 293.38,435.86 295.00,435.74 C296.62,435.62 298.25,433.45 299.88,433.45 C301.50,433.46 303.12,435.90 304.75,435.78 C306.38,435.65 308.00,432.82 309.62,432.70 C311.25,432.58 313.53,433.46 314.50,435.07 C315.47,436.69 315.28,439.85 315.46,442.38 C315.65,444.90 315.37,447.62 315.60,450.25 C315.83,452.88 316.46,455.60 316.83,458.12 C317.20,460.65 318.64,463.82 317.80,465.40 C316.96,466.98 313.77,467.53 311.76,467.60 C309.75,467.66 307.74,465.76 305.73,465.79 C303.71,465.82 301.70,467.78 299.69,467.80 C297.68,467.81 295.66,465.81 293.65,465.87 C291.64,465.93 289.62,468.05 287.61,468.14 C285.60,468.23 283.59,466.26 281.57,466.41 C279.56,466.55 277.55,468.94 275.54,469.01 C273.53,469.08 270.20,468.38 269.50,466.83 C268.80,465.29 270.85,462.22 271.33,459.75 C271.81,457.28 271.87,454.58 272.36,452.00 C272.85,449.42 273.77,446.75 274.30,444.25 C274.82,441.75 275.30,438.22 275.50,437.02" fill="url(#pg2)" stroke="#f0d060" stroke-width="0.5"/>
<path d="M206.00,514.66 L206.43,514.64 L206.85,514.62 L207.28,514.59 L207.71,514.57 L208.14,514.55 L208.56,514.52 L208.99,514.49 L209.42,514.46 L209.85,514.43 L210.28,514.39 L210.70,514.36 L211.13,514.32 L211.56,514.27 L211.99,514.22 L212.41,514.17 L212.84,514.11 L213.27,514.04 L213.69,513.97 L214.12,513.88 L214.55,513.78 L214.98,513.65 L215.41,513.49 L215.83,513.29 L216.26,513.02 L216.69,512.67 L217.12,512.19 L217.54,511.55 L217.97,510.69 L218.40,509.57 L218.82,508.13 L219.25,506.33 L219.68,504.14 L220.11,501.53 L220.53,498.54 L220.96,495.22 L221.39,491.69 L221.82,488.08 L222.25,484.61 L222.67,481.54 L223.10,479.16 L223.53,477.76 L223.95,477.52 L224.38,478.48 L224.81,480.50 L225.24,483.31 L225.66,486.61 L226.09,490.12 L226.52,493.63 L226.95,496.96 L227.38,499.99 L227.80,502.64 L228.23,504.89 L228.66,506.72 L229.09,508.16" fill="none" stroke="#a8dcff" stroke-width="2.0" stroke-linejoin="round" stroke-linecap="round"/>
<path d="M206.00,513.65 L206.43,513.63 L206.85,513.61 L207.28,513.58 L207.71,513.55 L208.14,513.52 L208.56,513.49 L208.99,513.46 L209.42,513.42 L209.85,513.38 L210.28,513.34 L210.70,513.29 L211.13,513.24 L211.56,513.18 L211.99,513.12 L212.41,513.06 L212.84,512.98 L213.27,512.90 L213.69,512.80 L214.12,512.68 L214.55,512.54 L214.98,512.37 L215.41,512.14 L215.83,511.84 L216.26,511.44 L216.69,510.90 L217.12,510.18 L217.54,509.23 L217.97,507.97 L218.40,506.36 L218.82,504.35 L219.25,501.89 L219.68,498.97 L220.11,495.63 L220.53,491.91 L220.96,487.95 L221.39,483.92 L221.82,480.04 L222.25,476.60 L222.67,473.94 L223.10,472.36 L223.53,472.10 L223.95,473.18 L224.38,475.43 L224.81,478.58 L225.24,482.27 L225.66,486.20 L226.09,490.13 L226.52,493.85 L226.95,497.24 L227.38,500.21 L227.80,502.73 L228.23,504.78 L228.66,506.40 L229.09,507.64" fill="none" stroke="#1830d8" stroke-width="2.0" stroke-linejoin="round" stroke-linecap="round"/>
<path d="M229.09,508.16 L229.51,509.26 L229.94,510.06 L230.37,510.61 L230.80,510.96 L231.22,511.14 L231.65,511.17 L232.08,511.09 L232.50,510.90 L232.93,510.60 L233.36,510.19 L233.79,509.66 L234.22,509.00 L234.64,508.18 L235.07,507.21 L235.50,506.05 L235.93,504.68 L236.35,503.09 L236.78,501.26 L237.21,499.18 L237.63,496.83 L238.06,494.21 L238.49,491.33 L238.92,488.18 L239.34,484.78 L239.77,481.17 L240.20,477.37 L240.63,473.43 L241.06,469.41 L241.48,465.36 L241.91,461.37 L242.34,457.52 L242.76,453.89 L243.19,450.59 L243.62,447.71 L244.05,445.34 L244.47,443.58 L244.90,442.50 L245.33,442.14 L245.76,442.55 L246.19,443.73 L246.61,445.63 L247.04,448.16 L247.47,451.19 L247.90,454.62 L248.32,458.33 L248.75,462.22 L249.18,466.18 L249.60,470.14 L250.03,474.04 L250.46,477.82 L250.89,481.43 L251.31,484.84 L251.74,488.03 L252.17,490.98 L252.60,493.68 L253.03,496.14 L253.45,498.35 L253.88,500.32 L254.31,502.07 L254.74,503.61 L255.16,504.95 L255.59,506.11 L256.02,507.12 L256.44,507.99 L256.87,508.73 L257.30,509.37 L257.73,509.91 L258.15,510.38 L258.58,510.78 L259.01,511.12 L259.44,511.42 L259.87,511.68 L260.29,511.90 L260.72,512.10 L261.15,512.28 L261.57,512.43 L262.00,512.58 L262.43,512.70 L262.86,512.82 L263.28,512.93 L263.71,513.03 L264.14,513.12 L264.57,513.21 L265.00,513.29 L265.42,513.36 L265.85,513.43 L266.28,513.50 L266.70,513.56 L267.13,513.62 L267.56,513.68 L267.99,513.73 L268.42,513.78 L268.84,513.83 L269.27,513.88 L269.70,513.92 L270.12,513.96 L270.55,514.00 L270.98,514.04 L271.41,514.07 L271.83,514.11 L272.26,514.14 L272.69,514.17 L273.12,514.20 L273.55,514.23 L273.97,514.26 L274.40,514.28 L274.83,514.31 L275.25,514.33 L275.68,514.36 L276.11,514.38 L276.54,514.40 L276.97,514.42 L277.39,514.44 L277.82,514.46 L278.25,514.48 L278.68,514.50 L279.10,514.51 L279.53,514.53 L279.96,514.55 L280.38,514.56 L280.81,514.58 L281.24,514.59 L281.67,514.60 L282.10,514.62 L282.52,514.63 L282.95,514.64 L283.38,514.65 L283.81,514.67 L284.23,514.68 L284.66,514.69 L285.09,514.70 L285.51,514.71 L285.94,514.72 L286.37,514.73 L286.80,514.74 L287.23,514.75 L287.65,514.76 L288.08,514.76 L288.51,514.77 L288.94,514.78 L289.36,514.79 L289.79,514.80 L290.22,514.80 L290.64,514.81 L291.07,514.82 L291.50,514.82 L291.93,514.83 L292.36,514.84 L292.78,514.84 L293.21,514.85 L293.64,514.86 L294.06,514.86 L294.49,514.87 L294.92,514.87 L295.35,514.88 L295.77,514.88 L296.20,514.89 L296.63,514.89 L297.06,514.90 L297.49,514.90 L297.91,514.91 L298.34,514.91 L298.77,514.92 L299.19,514.92 L299.62,514.93 L300.05,514.93 L300.48,514.93 L300.90,514.94 L301.33,514.94 L301.76,514.95 L302.19,514.95 L302.62,514.95 L303.04,514.96 L303.47,514.96 L303.90,514.96 L304.32,514.97 L304.75,514.97 L305.18,514.97 L305.61,514.98 L306.03,514.98 L306.46,514.98 L306.89,514.99 L307.32,514.99 L307.75,514.99 L308.17,514.99 L308.60,515.00 L309.03,515.00 L309.45,515.00 L309.88,515.00 L310.31,515.01 L310.74,515.01 L311.17,515.01 L311.59,515.01 L312.02,515.02 L312.45,515.02 L312.88,515.02 L313.30,515.02 L313.73,515.03 L314.16,515.03 L314.58,515.03 L315.01,515.03 L315.44,515.03 L315.87,515.04 L316.30,515.04 L316.72,515.04 L317.15,515.04 L317.58,515.04 L318.00,515.05 L318.43,515.05 L318.86,515.05 L319.29,515.05 L319.72,515.05" fill="none" stroke="#dcf7a8" stroke-width="2.0" stroke-linejoin="round" stroke-linecap="round"/>
<path d="M229.09,507.64 L229.51,508.55 L229.94,509.18 L230.37,509.58 L230.80,509.80 L231.22,509.87 L231.65,509.81 L232.08,509.64 L232.50,509.35 L232.93,508.96 L233.36,508.43 L233.79,507.77 L234.22,506.96 L234.64,505.97 L235.07,504.78 L235.50,503.37 L235.93,501.72 L236.35,499.80 L236.78,497.59 L237.21,495.07 L237.63,492.24 L238.06,489.08 L238.49,485.59 L238.92,481.80 L239.34,477.70 L239.77,473.35 L240.20,468.77 L240.63,464.02 L241.06,459.17 L241.48,454.30 L241.91,449.48 L242.34,444.84 L242.76,440.47 L243.19,436.48 L243.62,433.01 L244.05,430.16 L244.47,428.04 L244.90,426.74 L245.33,426.30 L245.76,426.79 L246.19,428.22 L246.61,430.50 L247.04,433.54 L247.47,437.20 L247.90,441.33 L248.32,445.80 L248.75,450.48 L249.18,455.26 L249.60,460.03 L250.03,464.73 L250.46,469.28 L250.89,473.62 L251.31,477.73 L251.74,481.58 L252.17,485.13 L252.60,488.39 L253.03,491.35 L253.45,494.01 L253.88,496.39 L254.31,498.49 L254.74,500.34 L255.16,501.96 L255.59,503.36 L256.02,504.58 L256.44,505.62 L256.87,506.52 L257.30,507.28 L257.73,507.94 L258.15,508.50 L258.58,508.98 L259.01,509.40 L259.44,509.75 L259.87,510.06 L260.29,510.33 L260.72,510.57 L261.15,510.78 L261.57,510.97 L262.00,511.14 L262.43,511.30 L262.86,511.44 L263.28,511.57 L263.71,511.69 L264.14,511.80 L264.57,511.90 L265.00,512.00 L265.42,512.09 L265.85,512.18 L266.28,512.26 L266.70,512.33 L267.13,512.41 L267.56,512.47 L267.99,512.54 L268.42,512.60 L268.84,512.66 L269.27,512.71 L269.70,512.76 L270.12,512.81 L270.55,512.86 L270.98,512.91 L271.41,512.95 L271.83,512.99 L272.26,513.03 L272.69,513.07 L273.12,513.10 L273.55,513.14 L273.97,513.17 L274.40,513.20 L274.83,513.23 L275.25,513.26 L275.68,513.29 L276.11,513.31 L276.54,513.34 L276.97,513.37 L277.39,513.39 L277.82,513.41 L278.25,513.43 L278.68,513.46 L279.10,513.48 L279.53,513.50 L279.96,513.51 L280.38,513.53 L280.81,513.55 L281.24,513.57 L281.67,513.58 L282.10,513.60 L282.52,513.62 L282.95,513.63 L283.38,513.65 L283.81,513.66 L284.23,513.67 L284.66,513.69 L285.09,513.70 L285.51,513.71 L285.94,513.72 L286.37,513.73 L286.80,513.75 L287.23,513.76 L287.65,513.77 L288.08,513.78 L288.51,513.79 L288.94,513.80 L289.36,513.81 L289.79,513.82 L290.22,513.82 L290.64,513.83 L291.07,513.84 L291.50,513.85 L291.93,513.86 L292.36,513.87 L292.78,513.87 L293.21,513.88 L293.64,513.89 L294.06,513.90 L294.49,513.90 L294.92,513.91 L295.35,513.92 L295.77,513.92 L296.20,513.93 L296.63,513.93 L297.06,513.94 L297.49,513.95 L297.91,513.95 L298.34,513.96 L298.77,513.96 L299.19,513.97 L299.62,513.97 L300.05,513.98 L300.48,513.98 L300.90,513.99 L301.33,513.99 L301.76,514.00 L302.19,514.00 L302.62,514.00 L303.04,514.01 L303.47,514.01 L303.90,514.02 L304.32,514.02 L304.75,514.03 L305.18,514.03 L305.61,514.03 L306.03,514.04 L306.46,514.04 L306.89,514.04 L307.32,514.05 L307.75,514.05 L308.17,514.05 L308.60,514.06 L309.03,514.06 L309.45,514.06 L309.88,514.07 L310.31,514.07 L310.74,514.07 L311.17,514.08 L311.59,514.08 L312.02,514.08 L312.45,514.08 L312.88,514.09 L313.30,514.09 L313.73,514.09 L314.16,514.09 L314.58,514.10 L315.01,514.10 L315.44,514.10 L315.87,514.10 L316.30,514.11 L316.72,514.11 L317.15,514.11 L317.58,514.11 L318.00,514.11 L318.43,514.12 L318.86,514.12 L319.29,514.12 L319.72,514.12" fill="none" stroke="#22e022" stroke-width="2.0" stroke-linejoin="round" stroke-linecap="round"/>
<rect x="206.0" y="416.9" width="114.0" height="97.39999999999998" fill="none" stroke="#333" stroke-width="0.7"/>
<line x1="206.0" y1="514.30" x2="207.8" y2="514.30" stroke="#333" stroke-width="0.6"/>
<text x="204.00" y="516.60" font-size="6.4" text-anchor="end" fill="#222" font-weight="normal" >0.0</text>
<line x1="206.0" y1="505.50" x2="207.0" y2="505.50" stroke="#333" stroke-width="0.5"/>
<line x1="206.0" y1="496.70" x2="207.8" y2="496.70" stroke="#333" stroke-width="0.6"/>
<text x="204.00" y="499.00" font-size="6.4" text-anchor="end" fill="#222" font-weight="normal" >0.2</text>
<line x1="206.0" y1="487.90" x2="207.0" y2="487.90" stroke="#333" stroke-width="0.5"/>
<line x1="206.0" y1="479.10" x2="207.8" y2="479.10" stroke="#333" stroke-width="0.6"/>
<text x="204.00" y="481.40" font-size="6.4" text-anchor="end" fill="#222" font-weight="normal" >0.4</text>
<line x1="206.0" y1="470.30" x2="207.0" y2="470.30" stroke="#333" stroke-width="0.5"/>
<line x1="206.0" y1="461.50" x2="207.8" y2="461.50" stroke="#333" stroke-width="0.6"/>
<text x="204.00" y="463.80" font-size="6.4" text-anchor="end" fill="#222" font-weight="normal" >0.6</text>
<line x1="206.0" y1="452.70" x2="207.0" y2="452.70" stroke="#333" stroke-width="0.5"/>
<line x1="206.0" y1="443.90" x2="207.8" y2="443.90" stroke="#333" stroke-width="0.6"/>
<text x="204.00" y="446.20" font-size="6.4" text-anchor="end" fill="#222" font-weight="normal" >0.8</text>
<line x1="206.0" y1="435.10" x2="207.0" y2="435.10" stroke="#333" stroke-width="0.5"/>
<line x1="206.0" y1="426.30" x2="207.8" y2="426.30" stroke="#333" stroke-width="0.6"/>
<text x="204.00" y="428.60" font-size="6.4" text-anchor="end" fill="#222" font-weight="normal" >1.0</text>
<line x1="206.00" y1="514.3" x2="206.00" y2="512.5" stroke="#333" stroke-width="0.6"/>
<text x="206.00" y="522.80" font-size="6.6" text-anchor="middle" fill="#222" font-weight="normal" >400</text>
<line x1="220.25" y1="514.3" x2="220.25" y2="512.5" stroke="#333" stroke-width="0.6"/>
<text x="220.25" y="522.80" font-size="6.6" text-anchor="middle" fill="#222" font-weight="normal" >450</text>
<line x1="234.50" y1="514.3" x2="234.50" y2="512.5" stroke="#333" stroke-width="0.6"/>
<text x="234.50" y="522.80" font-size="6.6" text-anchor="middle" fill="#222" font-weight="normal" >500</text>
<line x1="248.75" y1="514.3" x2="248.75" y2="512.5" stroke="#333" stroke-width="0.6"/>
<text x="248.75" y="522.80" font-size="6.6" text-anchor="middle" fill="#222" font-weight="normal" >550</text>
<line x1="263.00" y1="514.3" x2="263.00" y2="512.5" stroke="#333" stroke-width="0.6"/>
<text x="263.00" y="522.80" font-size="6.6" text-anchor="middle" fill="#222" font-weight="normal" >600</text>
<line x1="277.25" y1="514.3" x2="277.25" y2="512.5" stroke="#333" stroke-width="0.6"/>
<text x="277.25" y="522.80" font-size="6.6" text-anchor="middle" fill="#222" font-weight="normal" >650</text>
<line x1="291.50" y1="514.3" x2="291.50" y2="512.5" stroke="#333" stroke-width="0.6"/>
<text x="291.50" y="522.80" font-size="6.6" text-anchor="middle" fill="#222" font-weight="normal" >700</text>
<line x1="305.75" y1="514.3" x2="305.75" y2="512.5" stroke="#333" stroke-width="0.6"/>
<text x="305.75" y="522.80" font-size="6.6" text-anchor="middle" fill="#222" font-weight="normal" >750</text>
<line x1="320.00" y1="514.3" x2="320.00" y2="512.5" stroke="#333" stroke-width="0.6"/>
<text x="320.00" y="522.80" font-size="6.6" text-anchor="middle" fill="#222" font-weight="normal" >800</text>
<text x="263.20" y="529.80" font-size="6.13" text-anchor="middle" fill="#222" font-weight="normal" >Wavelength (nm)</text>
<text x="191.70" y="467.20" font-size="7.8" text-anchor="middle" fill="#222" font-weight="normal" transform="rotate(-90 191.70 467.20)">Norm. PL Intensity (arb. units)</text>
<line x1="255.2" y1="422.4" x2="267.2" y2="422.4" stroke="#1830d8" stroke-width="2"/>
<line x1="267.2" y1="422.4" x2="278.7" y2="422.4" stroke="#22e022" stroke-width="2"/>
<text x="279.70" y="424.30" font-size="5.1" text-anchor="start" fill="#222" font-weight="normal" >L-CPL Excitation</text>
<line x1="255.2" y1="428.7" x2="267.2" y2="428.7" stroke="#a8dcff" stroke-width="2"/>
<line x1="267.2" y1="428.7" x2="278.7" y2="428.7" stroke="#dcf7a8" stroke-width="2"/>
<text x="279.70" y="430.60" font-size="5.1" text-anchor="start" fill="#222" font-weight="normal" >R-CPL Excitation</text>
<path d="M554.93,408.76 C555.73,408.44 558.34,407.43 559.74,406.83 C561.15,406.23 562.15,406.11 563.36,405.15 C564.56,404.18 565.77,402.86 566.97,401.05 C568.18,399.24 569.38,396.72 570.58,394.31 C571.79,391.90 572.99,389.01 574.20,386.60 C575.40,384.19 576.73,382.10 577.81,379.85 C578.89,377.61 579.82,375.00 580.70,373.11 C581.58,371.22 582.19,370.02 583.11,368.53 C584.03,367.05 585.12,365.32 586.24,364.20 C587.37,363.07 588.65,362.31 589.85,361.79 C591.06,361.27 591.86,361.47 593.47,361.07 C595.07,360.66 597.88,359.94 599.49,359.38 C601.10,358.82 601.90,358.30 603.10,357.69 C604.31,357.09 605.31,356.61 606.72,355.77 C608.12,354.92 609.93,353.84 611.53,352.64 C613.14,351.43 614.74,350.03 616.35,348.54 C617.96,347.05 619.56,345.33 621.17,343.72 C622.77,342.12 624.58,340.19 625.99,338.91 C627.39,337.62 628.39,336.74 629.60,336.01 C630.80,335.29 631.81,334.89 633.21,334.57 C634.62,334.25 636.62,334.05 638.03,334.09 C639.43,334.13 640.44,334.41 641.64,334.81 C642.85,335.21 643.85,335.69 645.26,336.50 C646.66,337.30 648.47,338.42 650.07,339.63 C651.68,340.83 653.29,342.16 654.89,343.72 C656.50,345.29 658.10,347.01 659.71,349.02 C661.31,351.03 663.12,353.84 664.53,355.77 C665.93,357.69 666.93,358.98 668.14,360.58 C669.34,362.19 670.55,363.39 671.75,365.40 C672.96,367.41 674.76,371.42 675.37,372.63" fill="none" stroke="#111" stroke-width="0.85"/>
<path d="M557.34,422.01 L559.26,417.91 L560.95,413.58 L562.88,407.56 L564.56,401.05 L566.97,394.79 L569.38,389.49 L571.07,386.60 L572.99,382.26 L575.40,380.34 L577.81,378.65 L580.22,373.83 L582.63,369.01 L585.04,364.92 L587.45,362.99 L589.85,361.79 L592.26,361.07 L594.67,360.58 L597.08,360.34 L599.49,359.86 L601.90,358.90 L604.31,358.18 L606.72,356.97 L609.12,355.77 L611.53,354.56 L613.94,353.36 L616.35,350.95 L618.76,349.02 L621.17,348.06 L623.58,346.61 L625.99,345.89 L628.39,344.93 L630.80,343.72 L633.21,343.00 L635.62,343.24 L638.03,343.72 L640.44,345.41 L642.85,346.61 L645.26,347.82 L647.66,349.02 L650.07,349.74 L652.48,350.47 L654.89,351.43 L657.30,353.36 L659.23,356.25 L660.91,359.38 L662.60,358.90 L664.53,358.18 L666.45,361.07 L668.14,364.20 L669.83,362.99 L671.75,362.51 L673.68,364.92 L675.37,367.09" fill="none" stroke="#e84050" stroke-width="0.8" stroke-linejoin="round"/>
<polygon points="555.99,420.93 558.69,420.93 557.34,423.22" fill="none" stroke="#e84050" stroke-width="0.55"/>
<polygon points="559.60,412.50 562.30,412.50 560.95,414.79" fill="none" stroke="#e84050" stroke-width="0.55"/>
<polygon points="563.21,399.97 565.91,399.97 564.56,402.27" fill="none" stroke="#e84050" stroke-width="0.55"/>
<polygon points="568.03,388.41 570.73,388.41 569.38,390.70" fill="none" stroke="#e84050" stroke-width="0.55"/>
<polygon points="571.64,381.18 574.34,381.18 572.99,383.48" fill="none" stroke="#e84050" stroke-width="0.55"/>
<polygon points="576.46,377.57 579.16,377.57 577.81,379.86" fill="none" stroke="#e84050" stroke-width="0.55"/>
<polygon points="581.28,367.93 583.98,367.93 582.63,370.23" fill="none" stroke="#e84050" stroke-width="0.55"/>
<polygon points="586.10,361.91 588.80,361.91 587.45,364.21" fill="none" stroke="#e84050" stroke-width="0.55"/>
<polygon points="590.91,359.99 593.61,359.99 592.26,362.28" fill="none" stroke="#e84050" stroke-width="0.55"/>
<polygon points="595.73,359.26 598.43,359.26 597.08,361.56" fill="none" stroke="#e84050" stroke-width="0.55"/>
<polygon points="600.55,357.82 603.25,357.82 601.90,360.11" fill="none" stroke="#e84050" stroke-width="0.55"/>
<polygon points="605.37,355.89 608.07,355.89 606.72,358.19" fill="none" stroke="#e84050" stroke-width="0.55"/>
<polygon points="610.18,353.48 612.88,353.48 611.53,355.78" fill="none" stroke="#e84050" stroke-width="0.55"/>
<polygon points="615.00,349.87 617.70,349.87 616.35,352.16" fill="none" stroke="#e84050" stroke-width="0.55"/>
<polygon points="619.82,346.98 622.52,346.98 621.17,349.27" fill="none" stroke="#e84050" stroke-width="0.55"/>
<polygon points="624.64,344.81 627.34,344.81 625.99,347.11" fill="none" stroke="#e84050" stroke-width="0.55"/>
<polygon points="629.45,342.64 632.15,342.64 630.80,344.94" fill="none" stroke="#e84050" stroke-width="0.55"/>
<polygon points="634.27,342.16 636.97,342.16 635.62,344.46" fill="none" stroke="#e84050" stroke-width="0.55"/>
<polygon points="639.09,344.33 641.79,344.33 640.44,346.62" fill="none" stroke="#e84050" stroke-width="0.55"/>
<polygon points="643.91,346.74 646.61,346.74 645.26,349.03" fill="none" stroke="#e84050" stroke-width="0.55"/>
<polygon points="648.72,348.66 651.42,348.66 650.07,350.96" fill="none" stroke="#e84050" stroke-width="0.55"/>
<polygon points="653.54,350.35 656.24,350.35 654.89,352.65" fill="none" stroke="#e84050" stroke-width="0.55"/>
<polygon points="657.88,355.17 660.58,355.17 659.23,357.46" fill="none" stroke="#e84050" stroke-width="0.55"/>
<polygon points="661.25,357.82 663.95,357.82 662.60,360.11" fill="none" stroke="#e84050" stroke-width="0.55"/>
<polygon points="665.10,359.99 667.80,359.99 666.45,362.28" fill="none" stroke="#e84050" stroke-width="0.55"/>
<polygon points="668.48,361.91 671.18,361.91 669.83,364.21" fill="none" stroke="#e84050" stroke-width="0.55"/>
<polygon points="672.33,363.84 675.03,363.84 673.68,366.13" fill="none" stroke="#e84050" stroke-width="0.55"/>
<path d="M554.93,450.65 C555.93,450.01 558.74,448.12 560.95,446.80 C563.16,445.47 565.77,443.70 568.18,442.70 C570.58,441.70 572.99,441.26 575.40,440.77 C577.81,440.29 580.22,440.29 582.63,439.81 C585.04,439.33 587.45,438.61 589.85,437.88 C592.26,437.16 595.07,436.28 597.08,435.47 C599.09,434.67 600.49,433.99 601.90,433.07 C603.30,432.14 604.11,430.86 605.51,429.93 C606.92,429.01 608.72,428.21 610.33,427.53 C611.93,426.84 613.74,426.12 615.15,425.84 C616.55,425.56 617.76,425.72 618.76,425.84 C619.76,425.96 620.37,426.16 621.17,426.56 C621.97,426.96 622.77,427.69 623.58,428.25 C624.38,428.81 624.78,429.01 625.99,429.93 C627.19,430.86 629.20,432.74 630.80,433.79 C632.41,434.83 634.02,435.51 635.62,436.20 C637.23,436.88 638.83,437.52 640.44,437.88 C642.04,438.24 643.25,438.24 645.26,438.37 C647.26,438.49 650.07,438.49 652.48,438.61 C654.89,438.73 657.30,438.93 659.71,439.09 C662.12,439.25 664.33,439.41 666.93,439.57 C669.54,439.73 673.96,439.97 675.37,440.05" fill="none" stroke="#111" stroke-width="0.85"/>
<path d="M554.93,451.13 L556.13,448.72 L557.34,447.04 L559.02,449.20 L560.95,451.13 L562.88,452.34 L564.56,452.34 L566.49,451.61 L568.18,451.13 L570.58,451.13 L572.99,451.61 L575.40,450.65 L577.81,449.93 L580.22,447.52 L582.63,445.11 L585.04,443.91 L587.45,442.70 L589.85,441.98 L592.26,441.50 L594.67,440.05 L597.08,439.09 L599.49,437.88 L601.90,436.20 L604.31,433.79 L606.72,431.86 L608.64,430.42 L610.57,429.93 L612.74,430.42 L615.15,429.93 L617.56,429.93 L619.24,428.97 L621.17,427.04 L623.10,426.56 L625.02,426.32 L627.19,426.08 L629.60,425.84 L631.29,426.08 L633.21,426.56 L635.62,427.53 L638.03,428.25 L640.44,429.45 L642.85,429.93 L645.26,431.38 L647.66,433.07 L650.07,434.75 L652.48,436.20 L654.89,437.16 L657.30,437.88 L659.71,438.37 L662.12,439.09 L664.53,439.81 L666.93,441.50 L669.34,442.70 L671.75,443.91 L673.44,441.98 L675.37,442.70" fill="none" stroke="#e84050" stroke-width="0.8" stroke-linejoin="round"/>
<polygon points="553.58,450.05 556.28,450.05 554.93,452.35" fill="none" stroke="#e84050" stroke-width="0.55"/>
<polygon points="555.99,445.96 558.69,445.96 557.34,448.25" fill="none" stroke="#e84050" stroke-width="0.55"/>
<polygon points="559.60,450.05 562.30,450.05 560.95,452.35" fill="none" stroke="#e84050" stroke-width="0.55"/>
<polygon points="563.21,451.26 565.91,451.26 564.56,453.55" fill="none" stroke="#e84050" stroke-width="0.55"/>
<polygon points="566.83,450.05 569.53,450.05 568.18,452.35" fill="none" stroke="#e84050" stroke-width="0.55"/>
<polygon points="571.64,450.53 574.34,450.53 572.99,452.83" fill="none" stroke="#e84050" stroke-width="0.55"/>
<polygon points="576.46,448.85 579.16,448.85 577.81,451.14" fill="none" stroke="#e84050" stroke-width="0.55"/>
<polygon points="581.28,444.03 583.98,444.03 582.63,446.32" fill="none" stroke="#e84050" stroke-width="0.55"/>
<polygon points="586.10,441.62 588.80,441.62 587.45,443.92" fill="none" stroke="#e84050" stroke-width="0.55"/>
<polygon points="590.91,440.42 593.61,440.42 592.26,442.71" fill="none" stroke="#e84050" stroke-width="0.55"/>
<polygon points="595.73,438.01 598.43,438.01 597.08,440.30" fill="none" stroke="#e84050" stroke-width="0.55"/>
<polygon points="600.55,435.12 603.25,435.12 601.90,437.41" fill="none" stroke="#e84050" stroke-width="0.55"/>
<polygon points="605.37,430.78 608.07,430.78 606.72,433.08" fill="none" stroke="#e84050" stroke-width="0.55"/>
<polygon points="609.22,428.85 611.92,428.85 610.57,431.15" fill="none" stroke="#e84050" stroke-width="0.55"/>
<polygon points="613.80,428.85 616.50,428.85 615.15,431.15" fill="none" stroke="#e84050" stroke-width="0.55"/>
<polygon points="617.89,427.89 620.59,427.89 619.24,430.19" fill="none" stroke="#e84050" stroke-width="0.55"/>
<polygon points="621.75,425.48 624.45,425.48 623.10,427.78" fill="none" stroke="#e84050" stroke-width="0.55"/>
<polygon points="625.84,425.00 628.54,425.00 627.19,427.30" fill="none" stroke="#e84050" stroke-width="0.55"/>
<polygon points="629.94,425.00 632.64,425.00 631.29,427.30" fill="none" stroke="#e84050" stroke-width="0.55"/>
<polygon points="634.27,426.45 636.97,426.45 635.62,428.74" fill="none" stroke="#e84050" stroke-width="0.55"/>
<polygon points="639.09,428.37 641.79,428.37 640.44,430.67" fill="none" stroke="#e84050" stroke-width="0.55"/>
<polygon points="643.91,430.30 646.61,430.30 645.26,432.59" fill="none" stroke="#e84050" stroke-width="0.55"/>
<polygon points="648.72,433.67 651.42,433.67 650.07,435.97" fill="none" stroke="#e84050" stroke-width="0.55"/>
<polygon points="653.54,436.08 656.24,436.08 654.89,438.38" fill="none" stroke="#e84050" stroke-width="0.55"/>
<polygon points="658.36,437.29 661.06,437.29 659.71,439.58" fill="none" stroke="#e84050" stroke-width="0.55"/>
<polygon points="663.18,438.73 665.88,438.73 664.53,441.03" fill="none" stroke="#e84050" stroke-width="0.55"/>
<polygon points="667.99,441.62 670.69,441.62 669.34,443.92" fill="none" stroke="#e84050" stroke-width="0.55"/>
<polygon points="672.09,440.90 674.79,440.90 673.44,443.19" fill="none" stroke="#e84050" stroke-width="0.55"/>
<rect x="554.8" y="334.3" width="120.60000000000002" height="89.0" fill="none" stroke="#333" stroke-width="0.7"/>
<rect x="554.8" y="423.3" width="120.60000000000002" height="89.69999999999999" fill="none" stroke="#333" stroke-width="0.7"/>
<line x1="554.8" y1="423.30" x2="556.5999999999999" y2="423.30" stroke="#333" stroke-width="0.6"/>
<text x="551.00" y="425.60" font-size="6.4" text-anchor="end" fill="#222" font-weight="normal" >0.0</text>
<line x1="554.8" y1="378.80" x2="556.5999999999999" y2="378.80" stroke="#333" stroke-width="0.6"/>
<text x="551.00" y="381.10" font-size="6.4" text-anchor="end" fill="#222" font-weight="normal" >0.5</text>
<line x1="554.8" y1="334.30" x2="556.5999999999999" y2="334.30" stroke="#333" stroke-width="0.6"/>
<text x="551.00" y="336.60" font-size="6.4" text-anchor="end" fill="#222" font-weight="normal" >1.0</text>
<line x1="554.8" y1="468.15" x2="556.5999999999999" y2="468.15" stroke="#333" stroke-width="0.6"/>
<text x="551.00" y="470.45" font-size="6.4" text-anchor="end" fill="#222" font-weight="normal" >0.5</text>
<line x1="554.8" y1="513.00" x2="556.5999999999999" y2="513.00" stroke="#333" stroke-width="0.6"/>
<text x="551.00" y="515.30" font-size="6.4" text-anchor="end" fill="#222" font-weight="normal" >0.0</text>
<line x1="554.80" y1="513.0" x2="554.80" y2="511.2" stroke="#333" stroke-width="0.6"/>
<line x1="554.80" y1="423.3" x2="554.80" y2="425.1" stroke="#333" stroke-width="0.6"/>
<text x="554.80" y="522.30" font-size="6.5" text-anchor="middle" fill="#222" font-weight="normal" >9.2</text>
<line x1="584.95" y1="513.0" x2="584.95" y2="511.2" stroke="#333" stroke-width="0.6"/>
<line x1="584.95" y1="423.3" x2="584.95" y2="425.1" stroke="#333" stroke-width="0.6"/>
<text x="584.95" y="522.30" font-size="6.5" text-anchor="middle" fill="#222" font-weight="normal" >9.6</text>
<line x1="615.10" y1="513.0" x2="615.10" y2="511.2" stroke="#333" stroke-width="0.6"/>
<line x1="615.10" y1="423.3" x2="615.10" y2="425.1" stroke="#333" stroke-width="0.6"/>
<text x="615.10" y="522.30" font-size="6.5" text-anchor="middle" fill="#222" font-weight="normal" >10.0</text>
<line x1="645.25" y1="513.0" x2="645.25" y2="511.2" stroke="#333" stroke-width="0.6"/>
<line x1="645.25" y1="423.3" x2="645.25" y2="425.1" stroke="#333" stroke-width="0.6"/>
<text x="645.25" y="522.30" font-size="6.5" text-anchor="middle" fill="#222" font-weight="normal" >10.4</text>
<line x1="675.40" y1="513.0" x2="675.40" y2="511.2" stroke="#333" stroke-width="0.6"/>
<line x1="675.40" y1="423.3" x2="675.40" y2="425.1" stroke="#333" stroke-width="0.6"/>
<text x="675.40" y="522.30" font-size="6.5" text-anchor="middle" fill="#222" font-weight="normal" >10.8</text>
<text x="614.50" y="531.00" font-size="7.76" text-anchor="middle" fill="#222" font-weight="normal" >Wavelength (μm)</text>
<text x="535.30" y="374.90" font-size="7.58" text-anchor="middle" fill="#222" font-weight="normal" transform="rotate(-90 535.30 374.90)">SHG Circular dichroism</text>
<text x="535.70" y="465.00" font-size="7.55" text-anchor="middle" fill="#222" font-weight="normal" transform="rotate(-90 535.70 465.00)">THG Circular dichroism</text>
<line x1="556.9" y1="339.0" x2="570.7" y2="339.0" stroke="#e84050" stroke-width="0.8"/>
<polygon points="562.40,337.88 565.20,337.88 563.80,340.26" fill="none" stroke="#e84050" stroke-width="0.55"/>
<text x="572.70" y="341.30" font-size="6.5" text-anchor="start" fill="#2a2a2a" font-weight="normal" >Measurement</text>
<line x1="556.9" y1="345.4" x2="570.7" y2="345.4" stroke="#111" stroke-width="0.8"/>
<text x="572.70" y="347.70" font-size="6.5" text-anchor="start" fill="#2a2a2a" font-weight="normal" >Simulation</text>
<line x1="556.9" y1="459.6" x2="570.7" y2="459.6" stroke="#e84050" stroke-width="0.8"/>
<polygon points="562.40,458.48 565.20,458.48 563.80,460.86" fill="none" stroke="#e84050" stroke-width="0.55"/>
<text x="572.70" y="461.90" font-size="6.5" text-anchor="start" fill="#2a2a2a" font-weight="normal" >Measurement</text>
<line x1="556.9" y1="466.4" x2="570.7" y2="466.4" stroke="#111" stroke-width="0.8"/>
<text x="572.70" y="468.70" font-size="6.5" text-anchor="start" fill="#2a2a2a" font-weight="normal" >Simulation</text>
</svg>
</body></html>
